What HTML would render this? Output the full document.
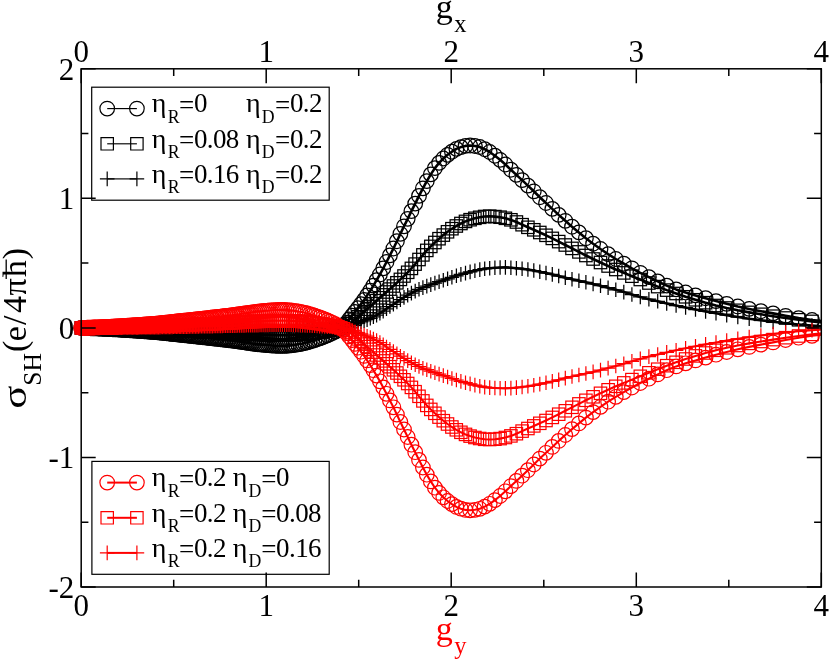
<!DOCTYPE html>
<html><head><meta charset="utf-8"><title>chart</title>
<style>html,body{margin:0;padding:0;background:#fff;}body{width:830px;height:662px;position:relative;overflow:hidden;font-family:"Liberation Serif",serif;}</style>
</head><body>
<svg width="830" height="662" viewBox="0 0 830 662" style="display:block;position:absolute;left:0;top:0;will-change:transform">
<defs><clipPath id="fr"><rect x="81.2" y="68.8" width="740.0999999999999" height="518.2"/></clipPath></defs>
<rect width="830" height="662" fill="#fff"/>
<path d="M81.2,327.9 82.4,327.9 83.6,328 84.8,328 86,328 87.2,328.1 88.4,328.1 89.6,328.1 90.8,328.2 92,328.2 93.2,328.3 94.4,328.3 95.6,328.4 96.9,328.4 98.1,328.5 99.3,328.5 100.5,328.6 101.7,328.6 102.9,328.7 104.1,328.7 105.3,328.8 106.6,328.8 107.8,328.9 109,329 110.2,329 111.4,329.1 112.7,329.2 113.9,329.2 115.1,329.3 116.3,329.4 117.6,329.4 118.8,329.5 120.1,329.6 121.3,329.7 122.5,329.7 123.8,329.8 125,329.9 126.3,330 127.5,330.1 128.8,330.1 130,330.2 131.3,330.3 132.6,330.4 133.8,330.5 135.1,330.6 136.4,330.6 137.6,330.7 138.9,330.8 140.2,330.9 141.5,331 142.8,331.1 144.1,331.2 145.4,331.3 146.7,331.4 148,331.5 149.3,331.6 150.6,331.7 151.9,331.8 153.2,331.9 154.5,332 155.9,332.1 157.2,332.2 158.5,332.4 159.9,332.5 161.2,332.6 162.6,332.8 164,332.9 165.3,333.1 166.7,333.2 168.1,333.4 169.4,333.5 170.8,333.7 172.2,333.8 173.6,334 175,334.1 176.4,334.3 177.8,334.4 179.3,334.6 180.7,334.8 182.1,334.9 183.6,335.1 185,335.2 186.5,335.4 187.9,335.5 189.4,335.7 190.9,335.9 192.4,336 193.9,336.2 195.4,336.3 196.9,336.5 198.4,336.7 199.9,336.9 201.5,337 203,337.2 204.6,337.4 206.1,337.5 207.7,337.7 209.3,337.9 210.9,338.1 212.5,338.3 214.1,338.5 215.7,338.6 217.3,338.8 219,339 220.6,339.2 222.3,339.4 223.9,339.6 225.6,339.8 227.3,340 229,340.2 230.7,340.4 232.5,340.6 234.2,340.9 236,341.1 237.7,341.4 239.5,341.6 241.3,341.9 243.1,342.1 244.9,342.4 246.7,342.7 248.6,342.9 250.5,343.2 252.3,343.5 254.2,343.7 256.1,344 258,344.2 260,344.4 261.9,344.6 263.9,344.8 265.9,345 267.9,345.1 269.9,345.3 272,345.5 274,345.6 276.1,345.7 278.2,345.8 280.3,345.9 282.4,345.9 284.6,345.8 286.8,345.7 289,345.5 291.2,345.3 293.4,345 295.7,344.7 298,344.3 300.3,344 302.6,343.5 305,343 307.3,342.3 309.7,341.6 312.2,340.9 314.6,340.1 317.1,339.2 319.6,338.4 322.2,337.5 324.7,336.5 327.3,335.4 329.9,334.2 332.6,333 335.3,331.6 338,330 340.8,328.2 343.6,325.8 346.4,322.8 349.2,319.4 352.1,315.7 355,311.9 358,308.1 361,304.1 364.1,299.9 367.1,295.4 370.3,290.7 373.4,285.6 376.6,280.2 379.9,274.5 383.2,268.4 386.5,262 389.9,255.4 393.4,248.5 396.9,241.2 400.4,233.8 404,226.3 407.7,218.8 411.4,211.1 415.2,203.6 419,195.9 422.9,188.3 426.8,181.1 430.8,174.4 434.9,168.1 439.1,162.9 443.3,158.5 447.6,154.8 451.9,151.7 456.4,148.9 460.9,147.1 465.5,145.9 470.1,145.5 474.9,146 479.8,147 484.7,149.2 489.7,152 494.9,155.7 500.1,159.8 505.4,164.5 510.9,169.7 516.4,174.9 522.1,180.1 527.9,185.6 533.8,191.3 539.8,197.2 546,203 552.3,208.9 558.7,214.9 565.3,220.8 572,226.7 578.9,232.4 585.9,238.2 593.1,243.7 600.5,249 608.1,254.1 615.8,259 623.8,263.7 631.9,268.3 640.3,272.8 648.9,277.1 657.7,281.4 666.7,285.6 676.1,289.4 685.6,292.5 695.5,295.4 705.6,298.2 716,301.1 726.7,303.8 737.8,306.5 749.2,308.9 760.9,311.2 773.1,313.4 785.6,315.8 798.6,318.1 812,320 825.8,321.6 840.2,322.7" fill="none" stroke="#000" stroke-width="2.6" stroke-linejoin="round" clip-path="url(#fr)"/>
<g fill="none" stroke="#000" stroke-width="1.25"><circle cx="81.2" cy="327.9" r="7.3"/><circle cx="82.4" cy="327.9" r="7.3"/><circle cx="83.6" cy="328" r="7.3"/><circle cx="84.8" cy="328" r="7.3"/><circle cx="86" cy="328" r="7.3"/><circle cx="87.2" cy="328.1" r="7.3"/><circle cx="88.4" cy="328.1" r="7.3"/><circle cx="89.6" cy="328.1" r="7.3"/><circle cx="90.8" cy="328.2" r="7.3"/><circle cx="92" cy="328.2" r="7.3"/><circle cx="93.2" cy="328.3" r="7.3"/><circle cx="94.4" cy="328.3" r="7.3"/><circle cx="95.6" cy="328.4" r="7.3"/><circle cx="96.9" cy="328.4" r="7.3"/><circle cx="98.1" cy="328.5" r="7.3"/><circle cx="99.3" cy="328.5" r="7.3"/><circle cx="100.5" cy="328.6" r="7.3"/><circle cx="101.7" cy="328.6" r="7.3"/><circle cx="102.9" cy="328.7" r="7.3"/><circle cx="104.1" cy="328.7" r="7.3"/><circle cx="105.3" cy="328.8" r="7.3"/><circle cx="106.6" cy="328.8" r="7.3"/><circle cx="107.8" cy="328.9" r="7.3"/><circle cx="109" cy="329" r="7.3"/><circle cx="110.2" cy="329" r="7.3"/><circle cx="111.4" cy="329.1" r="7.3"/><circle cx="112.7" cy="329.2" r="7.3"/><circle cx="113.9" cy="329.2" r="7.3"/><circle cx="115.1" cy="329.3" r="7.3"/><circle cx="116.3" cy="329.4" r="7.3"/><circle cx="117.6" cy="329.4" r="7.3"/><circle cx="118.8" cy="329.5" r="7.3"/><circle cx="120.1" cy="329.6" r="7.3"/><circle cx="121.3" cy="329.7" r="7.3"/><circle cx="122.5" cy="329.7" r="7.3"/><circle cx="123.8" cy="329.8" r="7.3"/><circle cx="125" cy="329.9" r="7.3"/><circle cx="126.3" cy="330" r="7.3"/><circle cx="127.5" cy="330.1" r="7.3"/><circle cx="128.8" cy="330.1" r="7.3"/><circle cx="130" cy="330.2" r="7.3"/><circle cx="131.3" cy="330.3" r="7.3"/><circle cx="132.6" cy="330.4" r="7.3"/><circle cx="133.8" cy="330.5" r="7.3"/><circle cx="135.1" cy="330.6" r="7.3"/><circle cx="136.4" cy="330.6" r="7.3"/><circle cx="137.6" cy="330.7" r="7.3"/><circle cx="138.9" cy="330.8" r="7.3"/><circle cx="140.2" cy="330.9" r="7.3"/><circle cx="141.5" cy="331" r="7.3"/><circle cx="142.8" cy="331.1" r="7.3"/><circle cx="144.1" cy="331.2" r="7.3"/><circle cx="145.4" cy="331.3" r="7.3"/><circle cx="146.7" cy="331.4" r="7.3"/><circle cx="148" cy="331.5" r="7.3"/><circle cx="149.3" cy="331.6" r="7.3"/><circle cx="150.6" cy="331.7" r="7.3"/><circle cx="151.9" cy="331.8" r="7.3"/><circle cx="153.2" cy="331.9" r="7.3"/><circle cx="154.5" cy="332" r="7.3"/><circle cx="155.9" cy="332.1" r="7.3"/><circle cx="157.2" cy="332.2" r="7.3"/><circle cx="158.5" cy="332.4" r="7.3"/><circle cx="159.9" cy="332.5" r="7.3"/><circle cx="161.2" cy="332.6" r="7.3"/><circle cx="162.6" cy="332.8" r="7.3"/><circle cx="164" cy="332.9" r="7.3"/><circle cx="165.3" cy="333.1" r="7.3"/><circle cx="166.7" cy="333.2" r="7.3"/><circle cx="168.1" cy="333.4" r="7.3"/><circle cx="169.4" cy="333.5" r="7.3"/><circle cx="170.8" cy="333.7" r="7.3"/><circle cx="172.2" cy="333.8" r="7.3"/><circle cx="173.6" cy="334" r="7.3"/><circle cx="175" cy="334.1" r="7.3"/><circle cx="176.4" cy="334.3" r="7.3"/><circle cx="177.8" cy="334.4" r="7.3"/><circle cx="179.3" cy="334.6" r="7.3"/><circle cx="180.7" cy="334.8" r="7.3"/><circle cx="182.1" cy="334.9" r="7.3"/><circle cx="183.6" cy="335.1" r="7.3"/><circle cx="185" cy="335.2" r="7.3"/><circle cx="186.5" cy="335.4" r="7.3"/><circle cx="187.9" cy="335.5" r="7.3"/><circle cx="189.4" cy="335.7" r="7.3"/><circle cx="190.9" cy="335.9" r="7.3"/><circle cx="192.4" cy="336" r="7.3"/><circle cx="193.9" cy="336.2" r="7.3"/><circle cx="195.4" cy="336.3" r="7.3"/><circle cx="196.9" cy="336.5" r="7.3"/><circle cx="198.4" cy="336.7" r="7.3"/><circle cx="199.9" cy="336.9" r="7.3"/><circle cx="201.5" cy="337" r="7.3"/><circle cx="203" cy="337.2" r="7.3"/><circle cx="204.6" cy="337.4" r="7.3"/><circle cx="206.1" cy="337.5" r="7.3"/><circle cx="207.7" cy="337.7" r="7.3"/><circle cx="209.3" cy="337.9" r="7.3"/><circle cx="210.9" cy="338.1" r="7.3"/><circle cx="212.5" cy="338.3" r="7.3"/><circle cx="214.1" cy="338.5" r="7.3"/><circle cx="215.7" cy="338.6" r="7.3"/><circle cx="217.3" cy="338.8" r="7.3"/><circle cx="219" cy="339" r="7.3"/><circle cx="220.6" cy="339.2" r="7.3"/><circle cx="222.3" cy="339.4" r="7.3"/><circle cx="223.9" cy="339.6" r="7.3"/><circle cx="225.6" cy="339.8" r="7.3"/><circle cx="227.3" cy="340" r="7.3"/><circle cx="229" cy="340.2" r="7.3"/><circle cx="230.7" cy="340.4" r="7.3"/><circle cx="232.5" cy="340.6" r="7.3"/><circle cx="234.2" cy="340.9" r="7.3"/><circle cx="236" cy="341.1" r="7.3"/><circle cx="237.7" cy="341.4" r="7.3"/><circle cx="239.5" cy="341.6" r="7.3"/><circle cx="241.3" cy="341.9" r="7.3"/><circle cx="243.1" cy="342.1" r="7.3"/><circle cx="244.9" cy="342.4" r="7.3"/><circle cx="246.7" cy="342.7" r="7.3"/><circle cx="248.6" cy="342.9" r="7.3"/><circle cx="250.5" cy="343.2" r="7.3"/><circle cx="252.3" cy="343.5" r="7.3"/><circle cx="254.2" cy="343.7" r="7.3"/><circle cx="256.1" cy="344" r="7.3"/><circle cx="258" cy="344.2" r="7.3"/><circle cx="260" cy="344.4" r="7.3"/><circle cx="261.9" cy="344.6" r="7.3"/><circle cx="263.9" cy="344.8" r="7.3"/><circle cx="265.9" cy="345" r="7.3"/><circle cx="267.9" cy="345.1" r="7.3"/><circle cx="269.9" cy="345.3" r="7.3"/><circle cx="272" cy="345.5" r="7.3"/><circle cx="274" cy="345.6" r="7.3"/><circle cx="276.1" cy="345.7" r="7.3"/><circle cx="278.2" cy="345.8" r="7.3"/><circle cx="280.3" cy="345.9" r="7.3"/><circle cx="282.4" cy="345.9" r="7.3"/><circle cx="284.6" cy="345.8" r="7.3"/><circle cx="286.8" cy="345.7" r="7.3"/><circle cx="289" cy="345.5" r="7.3"/><circle cx="291.2" cy="345.3" r="7.3"/><circle cx="293.4" cy="345" r="7.3"/><circle cx="295.7" cy="344.7" r="7.3"/><circle cx="298" cy="344.3" r="7.3"/><circle cx="300.3" cy="344" r="7.3"/><circle cx="302.6" cy="343.5" r="7.3"/><circle cx="305" cy="343" r="7.3"/><circle cx="307.3" cy="342.3" r="7.3"/><circle cx="309.7" cy="341.6" r="7.3"/><circle cx="312.2" cy="340.9" r="7.3"/><circle cx="314.6" cy="340.1" r="7.3"/><circle cx="317.1" cy="339.2" r="7.3"/><circle cx="319.6" cy="338.4" r="7.3"/><circle cx="322.2" cy="337.5" r="7.3"/><circle cx="324.7" cy="336.5" r="7.3"/><circle cx="327.3" cy="335.4" r="7.3"/><circle cx="329.9" cy="334.2" r="7.3"/><circle cx="332.6" cy="333" r="7.3"/><circle cx="335.3" cy="331.6" r="7.3"/><circle cx="338" cy="330" r="7.3"/><circle cx="340.8" cy="328.2" r="7.3"/><circle cx="343.6" cy="325.8" r="7.3"/><circle cx="346.4" cy="322.8" r="7.3"/><circle cx="349.2" cy="319.4" r="7.3"/><circle cx="352.1" cy="315.7" r="7.3"/><circle cx="355" cy="311.9" r="7.3"/><circle cx="358" cy="308.1" r="7.3"/><circle cx="361" cy="304.1" r="7.3"/><circle cx="364.1" cy="299.9" r="7.3"/><circle cx="367.1" cy="295.4" r="7.3"/><circle cx="370.3" cy="290.7" r="7.3"/><circle cx="373.4" cy="285.6" r="7.3"/><circle cx="376.6" cy="280.2" r="7.3"/><circle cx="379.9" cy="274.5" r="7.3"/><circle cx="383.2" cy="268.4" r="7.3"/><circle cx="386.5" cy="262" r="7.3"/><circle cx="389.9" cy="255.4" r="7.3"/><circle cx="393.4" cy="248.5" r="7.3"/><circle cx="396.9" cy="241.2" r="7.3"/><circle cx="400.4" cy="233.8" r="7.3"/><circle cx="404" cy="226.3" r="7.3"/><circle cx="407.7" cy="218.8" r="7.3"/><circle cx="411.4" cy="211.1" r="7.3"/><circle cx="415.2" cy="203.6" r="7.3"/><circle cx="419" cy="195.9" r="7.3"/><circle cx="422.9" cy="188.3" r="7.3"/><circle cx="426.8" cy="181.1" r="7.3"/><circle cx="430.8" cy="174.4" r="7.3"/><circle cx="434.9" cy="168.1" r="7.3"/><circle cx="439.1" cy="162.9" r="7.3"/><circle cx="443.3" cy="158.5" r="7.3"/><circle cx="447.6" cy="154.8" r="7.3"/><circle cx="451.9" cy="151.7" r="7.3"/><circle cx="456.4" cy="148.9" r="7.3"/><circle cx="460.9" cy="147.1" r="7.3"/><circle cx="465.5" cy="145.9" r="7.3"/><circle cx="470.1" cy="145.5" r="7.3"/><circle cx="474.9" cy="146" r="7.3"/><circle cx="479.8" cy="147" r="7.3"/><circle cx="484.7" cy="149.2" r="7.3"/><circle cx="489.7" cy="152" r="7.3"/><circle cx="494.9" cy="155.7" r="7.3"/><circle cx="500.1" cy="159.8" r="7.3"/><circle cx="505.4" cy="164.5" r="7.3"/><circle cx="510.9" cy="169.7" r="7.3"/><circle cx="516.4" cy="174.9" r="7.3"/><circle cx="522.1" cy="180.1" r="7.3"/><circle cx="527.9" cy="185.6" r="7.3"/><circle cx="533.8" cy="191.3" r="7.3"/><circle cx="539.8" cy="197.2" r="7.3"/><circle cx="546" cy="203" r="7.3"/><circle cx="552.3" cy="208.9" r="7.3"/><circle cx="558.7" cy="214.9" r="7.3"/><circle cx="565.3" cy="220.8" r="7.3"/><circle cx="572" cy="226.7" r="7.3"/><circle cx="578.9" cy="232.4" r="7.3"/><circle cx="585.9" cy="238.2" r="7.3"/><circle cx="593.1" cy="243.7" r="7.3"/><circle cx="600.5" cy="249" r="7.3"/><circle cx="608.1" cy="254.1" r="7.3"/><circle cx="615.8" cy="259" r="7.3"/><circle cx="623.8" cy="263.7" r="7.3"/><circle cx="631.9" cy="268.3" r="7.3"/><circle cx="640.3" cy="272.8" r="7.3"/><circle cx="648.9" cy="277.1" r="7.3"/><circle cx="657.7" cy="281.4" r="7.3"/><circle cx="666.7" cy="285.6" r="7.3"/><circle cx="676.1" cy="289.4" r="7.3"/><circle cx="685.6" cy="292.5" r="7.3"/><circle cx="695.5" cy="295.4" r="7.3"/><circle cx="705.6" cy="298.2" r="7.3"/><circle cx="716" cy="301.1" r="7.3"/><circle cx="726.7" cy="303.8" r="7.3"/><circle cx="737.8" cy="306.5" r="7.3"/><circle cx="749.2" cy="308.9" r="7.3"/><circle cx="760.9" cy="311.2" r="7.3"/><circle cx="773.1" cy="313.4" r="7.3"/><circle cx="785.6" cy="315.8" r="7.3"/><circle cx="798.6" cy="318.1" r="7.3"/><circle cx="812" cy="320" r="7.3"/></g>
<path d="M81.2,327.9 82.4,327.9 83.6,327.9 84.8,327.9 86,328 87.2,328 88.4,328 89.6,328 90.8,328 92,328 93.2,328.1 94.4,328.1 95.6,328.1 96.9,328.1 98.1,328.1 99.3,328.2 100.5,328.2 101.7,328.2 102.9,328.2 104.1,328.2 105.3,328.3 106.6,328.3 107.8,328.3 109,328.3 110.2,328.4 111.4,328.4 112.7,328.4 113.9,328.4 115.1,328.5 116.3,328.5 117.6,328.5 118.8,328.6 120.1,328.6 121.3,328.6 122.5,328.7 123.8,328.7 125,328.7 126.3,328.8 127.5,328.8 128.8,328.8 130,328.8 131.3,328.9 132.6,328.9 133.8,329 135.1,329 136.4,329 137.6,329.1 138.9,329.1 140.2,329.1 141.5,329.2 142.8,329.2 144.1,329.2 145.4,329.3 146.7,329.3 148,329.4 149.3,329.4 150.6,329.4 151.9,329.5 153.2,329.5 154.5,329.6 155.9,329.6 157.2,329.7 158.5,329.7 159.9,329.8 161.2,329.8 162.6,329.9 164,329.9 165.3,330 166.7,330 168.1,330.1 169.4,330.2 170.8,330.2 172.2,330.3 173.6,330.4 175,330.4 176.4,330.5 177.8,330.5 179.3,330.6 180.7,330.7 182.1,330.7 183.6,330.8 185,330.9 186.5,330.9 187.9,331 189.4,331 190.9,331.1 192.4,331.2 193.9,331.2 195.4,331.3 196.9,331.4 198.4,331.5 199.9,331.5 201.5,331.6 203,331.7 204.6,331.7 206.1,331.8 207.7,331.9 209.3,332 210.9,332 212.5,332.1 214.1,332.2 215.7,332.3 217.3,332.3 219,332.4 220.6,332.5 222.3,332.6 223.9,332.7 225.6,332.7 227.3,332.8 229,332.9 230.7,333 232.5,333.1 234.2,333.2 236,333.3 237.7,333.4 239.5,333.5 241.3,333.6 243.1,333.7 244.9,333.8 246.7,333.9 248.6,334 250.5,334.1 252.3,334.2 254.2,334.3 256.1,334.4 258,334.4 260,334.5 261.9,334.6 263.9,334.7 265.9,334.8 267.9,334.8 269.9,334.9 272,335 274,335 276.1,335.1 278.2,335.1 280.3,335.1 282.4,335.2 284.6,335.1 286.8,335.1 289,335 291.2,334.9 293.4,334.8 295.7,334.7 298,334.6 300.3,334.5 302.6,334.3 305,334.1 307.3,333.8 309.7,333.5 312.2,333.2 314.6,332.9 317.1,332.6 319.6,332.2 322.2,331.8 324.7,331.4 327.3,330.9 329.9,330.4 332.6,329.9 335.3,329.4 338,328.8 340.8,328 343.6,327 346.4,325.5 349.2,323.7 352.1,321.6 355,319.3 358,316.8 361,314.3 364.1,311.7 367.1,309.2 370.3,306.5 373.4,303.7 376.6,300.7 379.9,297.8 383.2,294.9 386.5,292 389.9,289.1 393.4,286 396.9,282.8 400.4,279.4 404,276 407.7,272.3 411.4,268.4 415.2,264.1 419,259.5 422.9,254.9 426.8,250.4 430.8,246.4 434.9,242.5 439.1,238.7 443.3,235.1 447.6,231.8 451.9,228.8 456.4,226 460.9,223.5 465.5,221.4 470.1,219.7 474.9,218.3 479.8,217.3 484.7,216.5 489.7,216.3 494.9,216.6 500.1,217.2 505.4,218.3 510.9,219.9 516.4,222 522.1,224.7 527.9,227.3 533.8,229.8 539.8,232.5 546,235.3 552.3,238.4 558.7,241.6 565.3,245 572,248.4 578.9,251.9 585.9,255.5 593.1,259 600.5,262.5 608.1,266 615.8,269.5 623.8,272.9 631.9,276.2 640.3,279.5 648.9,283 657.7,286.6 666.7,290.1 676.1,293.5 685.6,296.8 695.5,299.8 705.6,302.7 716,305.5 726.7,308 737.8,310.3 749.2,312.4 760.9,314.3 773.1,316.2 785.6,318 798.6,319.8 812,321.4 825.8,322.8 840.2,324" fill="none" stroke="#000" stroke-width="2.6" stroke-linejoin="round" clip-path="url(#fr)"/>
<g fill="none" stroke="#000" stroke-width="1.25"><rect x="75" y="321.7" width="12.4" height="12.4"/><rect x="76.2" y="321.7" width="12.4" height="12.4"/><rect x="77.4" y="321.7" width="12.4" height="12.4"/><rect x="78.6" y="321.7" width="12.4" height="12.4"/><rect x="79.8" y="321.7" width="12.4" height="12.4"/><rect x="81" y="321.8" width="12.4" height="12.4"/><rect x="82.2" y="321.8" width="12.4" height="12.4"/><rect x="83.4" y="321.8" width="12.4" height="12.4"/><rect x="84.6" y="321.8" width="12.4" height="12.4"/><rect x="85.8" y="321.8" width="12.4" height="12.4"/><rect x="87" y="321.8" width="12.4" height="12.4"/><rect x="88.2" y="321.9" width="12.4" height="12.4"/><rect x="89.4" y="321.9" width="12.4" height="12.4"/><rect x="90.7" y="321.9" width="12.4" height="12.4"/><rect x="91.9" y="321.9" width="12.4" height="12.4"/><rect x="93.1" y="321.9" width="12.4" height="12.4"/><rect x="94.3" y="322" width="12.4" height="12.4"/><rect x="95.5" y="322" width="12.4" height="12.4"/><rect x="96.7" y="322" width="12.4" height="12.4"/><rect x="97.9" y="322" width="12.4" height="12.4"/><rect x="99.1" y="322.1" width="12.4" height="12.4"/><rect x="100.4" y="322.1" width="12.4" height="12.4"/><rect x="101.6" y="322.1" width="12.4" height="12.4"/><rect x="102.8" y="322.1" width="12.4" height="12.4"/><rect x="104" y="322.2" width="12.4" height="12.4"/><rect x="105.2" y="322.2" width="12.4" height="12.4"/><rect x="106.5" y="322.2" width="12.4" height="12.4"/><rect x="107.7" y="322.2" width="12.4" height="12.4"/><rect x="108.9" y="322.3" width="12.4" height="12.4"/><rect x="110.1" y="322.3" width="12.4" height="12.4"/><rect x="111.4" y="322.3" width="12.4" height="12.4"/><rect x="112.6" y="322.4" width="12.4" height="12.4"/><rect x="113.8" y="322.4" width="12.4" height="12.4"/><rect x="115.1" y="322.4" width="12.4" height="12.4"/><rect x="116.3" y="322.5" width="12.4" height="12.4"/><rect x="117.6" y="322.5" width="12.4" height="12.4"/><rect x="118.8" y="322.5" width="12.4" height="12.4"/><rect x="120.1" y="322.5" width="12.4" height="12.4"/><rect x="121.3" y="322.6" width="12.4" height="12.4"/><rect x="122.6" y="322.6" width="12.4" height="12.4"/><rect x="123.8" y="322.6" width="12.4" height="12.4"/><rect x="125.1" y="322.7" width="12.4" height="12.4"/><rect x="126.3" y="322.7" width="12.4" height="12.4"/><rect x="127.6" y="322.7" width="12.4" height="12.4"/><rect x="128.9" y="322.8" width="12.4" height="12.4"/><rect x="130.2" y="322.8" width="12.4" height="12.4"/><rect x="131.4" y="322.9" width="12.4" height="12.4"/><rect x="132.7" y="322.9" width="12.4" height="12.4"/><rect x="134" y="322.9" width="12.4" height="12.4"/><rect x="135.3" y="323" width="12.4" height="12.4"/><rect x="136.6" y="323" width="12.4" height="12.4"/><rect x="137.9" y="323" width="12.4" height="12.4"/><rect x="139.1" y="323.1" width="12.4" height="12.4"/><rect x="140.4" y="323.1" width="12.4" height="12.4"/><rect x="141.8" y="323.1" width="12.4" height="12.4"/><rect x="143.1" y="323.2" width="12.4" height="12.4"/><rect x="144.4" y="323.2" width="12.4" height="12.4"/><rect x="145.7" y="323.3" width="12.4" height="12.4"/><rect x="147" y="323.3" width="12.4" height="12.4"/><rect x="148.3" y="323.4" width="12.4" height="12.4"/><rect x="149.7" y="323.4" width="12.4" height="12.4"/><rect x="151" y="323.5" width="12.4" height="12.4"/><rect x="152.3" y="323.5" width="12.4" height="12.4"/><rect x="153.7" y="323.6" width="12.4" height="12.4"/><rect x="155" y="323.6" width="12.4" height="12.4"/><rect x="156.4" y="323.7" width="12.4" height="12.4"/><rect x="157.7" y="323.7" width="12.4" height="12.4"/><rect x="159.1" y="323.8" width="12.4" height="12.4"/><rect x="160.5" y="323.8" width="12.4" height="12.4"/><rect x="161.9" y="323.9" width="12.4" height="12.4"/><rect x="163.2" y="324" width="12.4" height="12.4"/><rect x="164.6" y="324" width="12.4" height="12.4"/><rect x="166" y="324.1" width="12.4" height="12.4"/><rect x="167.4" y="324.1" width="12.4" height="12.4"/><rect x="168.8" y="324.2" width="12.4" height="12.4"/><rect x="170.2" y="324.3" width="12.4" height="12.4"/><rect x="171.6" y="324.3" width="12.4" height="12.4"/><rect x="173.1" y="324.4" width="12.4" height="12.4"/><rect x="174.5" y="324.5" width="12.4" height="12.4"/><rect x="175.9" y="324.5" width="12.4" height="12.4"/><rect x="177.4" y="324.6" width="12.4" height="12.4"/><rect x="178.8" y="324.7" width="12.4" height="12.4"/><rect x="180.3" y="324.7" width="12.4" height="12.4"/><rect x="181.7" y="324.8" width="12.4" height="12.4"/><rect x="183.2" y="324.8" width="12.4" height="12.4"/><rect x="184.7" y="324.9" width="12.4" height="12.4"/><rect x="186.2" y="325" width="12.4" height="12.4"/><rect x="187.7" y="325" width="12.4" height="12.4"/><rect x="189.2" y="325.1" width="12.4" height="12.4"/><rect x="190.7" y="325.2" width="12.4" height="12.4"/><rect x="192.2" y="325.2" width="12.4" height="12.4"/><rect x="193.7" y="325.3" width="12.4" height="12.4"/><rect x="195.3" y="325.4" width="12.4" height="12.4"/><rect x="196.8" y="325.5" width="12.4" height="12.4"/><rect x="198.4" y="325.5" width="12.4" height="12.4"/><rect x="199.9" y="325.6" width="12.4" height="12.4"/><rect x="201.5" y="325.7" width="12.4" height="12.4"/><rect x="203.1" y="325.8" width="12.4" height="12.4"/><rect x="204.7" y="325.8" width="12.4" height="12.4"/><rect x="206.3" y="325.9" width="12.4" height="12.4"/><rect x="207.9" y="326" width="12.4" height="12.4"/><rect x="209.5" y="326.1" width="12.4" height="12.4"/><rect x="211.1" y="326.1" width="12.4" height="12.4"/><rect x="212.7" y="326.2" width="12.4" height="12.4"/><rect x="214.4" y="326.3" width="12.4" height="12.4"/><rect x="216.1" y="326.4" width="12.4" height="12.4"/><rect x="217.7" y="326.5" width="12.4" height="12.4"/><rect x="219.4" y="326.5" width="12.4" height="12.4"/><rect x="221.1" y="326.6" width="12.4" height="12.4"/><rect x="222.8" y="326.7" width="12.4" height="12.4"/><rect x="224.5" y="326.8" width="12.4" height="12.4"/><rect x="226.3" y="326.9" width="12.4" height="12.4"/><rect x="228" y="327" width="12.4" height="12.4"/><rect x="229.7" y="327.1" width="12.4" height="12.4"/><rect x="231.5" y="327.2" width="12.4" height="12.4"/><rect x="233.3" y="327.2" width="12.4" height="12.4"/><rect x="235.1" y="327.3" width="12.4" height="12.4"/><rect x="236.9" y="327.5" width="12.4" height="12.4"/><rect x="238.7" y="327.6" width="12.4" height="12.4"/><rect x="240.5" y="327.7" width="12.4" height="12.4"/><rect x="242.4" y="327.8" width="12.4" height="12.4"/><rect x="244.2" y="327.9" width="12.4" height="12.4"/><rect x="246.1" y="328" width="12.4" height="12.4"/><rect x="248" y="328.1" width="12.4" height="12.4"/><rect x="249.9" y="328.1" width="12.4" height="12.4"/><rect x="251.8" y="328.2" width="12.4" height="12.4"/><rect x="253.8" y="328.3" width="12.4" height="12.4"/><rect x="255.7" y="328.4" width="12.4" height="12.4"/><rect x="257.7" y="328.5" width="12.4" height="12.4"/><rect x="259.7" y="328.6" width="12.4" height="12.4"/><rect x="261.7" y="328.6" width="12.4" height="12.4"/><rect x="263.7" y="328.7" width="12.4" height="12.4"/><rect x="265.8" y="328.8" width="12.4" height="12.4"/><rect x="267.8" y="328.8" width="12.4" height="12.4"/><rect x="269.9" y="328.9" width="12.4" height="12.4"/><rect x="272" y="328.9" width="12.4" height="12.4"/><rect x="274.1" y="328.9" width="12.4" height="12.4"/><rect x="276.2" y="328.9" width="12.4" height="12.4"/><rect x="278.4" y="328.9" width="12.4" height="12.4"/><rect x="280.6" y="328.9" width="12.4" height="12.4"/><rect x="282.8" y="328.8" width="12.4" height="12.4"/><rect x="285" y="328.7" width="12.4" height="12.4"/><rect x="287.2" y="328.6" width="12.4" height="12.4"/><rect x="289.5" y="328.5" width="12.4" height="12.4"/><rect x="291.8" y="328.4" width="12.4" height="12.4"/><rect x="294.1" y="328.3" width="12.4" height="12.4"/><rect x="296.4" y="328.1" width="12.4" height="12.4"/><rect x="298.8" y="327.9" width="12.4" height="12.4"/><rect x="301.1" y="327.6" width="12.4" height="12.4"/><rect x="303.5" y="327.3" width="12.4" height="12.4"/><rect x="306" y="327" width="12.4" height="12.4"/><rect x="308.4" y="326.7" width="12.4" height="12.4"/><rect x="310.9" y="326.4" width="12.4" height="12.4"/><rect x="313.4" y="326" width="12.4" height="12.4"/><rect x="316" y="325.6" width="12.4" height="12.4"/><rect x="318.5" y="325.2" width="12.4" height="12.4"/><rect x="321.1" y="324.7" width="12.4" height="12.4"/><rect x="323.7" y="324.2" width="12.4" height="12.4"/><rect x="326.4" y="323.7" width="12.4" height="12.4"/><rect x="329.1" y="323.2" width="12.4" height="12.4"/><rect x="331.8" y="322.6" width="12.4" height="12.4"/><rect x="334.6" y="321.8" width="12.4" height="12.4"/><rect x="337.3" y="320.8" width="12.4" height="12.4"/><rect x="340.2" y="319.3" width="12.4" height="12.4"/><rect x="343" y="317.5" width="12.4" height="12.4"/><rect x="345.9" y="315.4" width="12.4" height="12.4"/><rect x="348.8" y="313.1" width="12.4" height="12.4"/><rect x="351.8" y="310.6" width="12.4" height="12.4"/><rect x="354.8" y="308.1" width="12.4" height="12.4"/><rect x="357.9" y="305.5" width="12.4" height="12.4"/><rect x="360.9" y="303" width="12.4" height="12.4"/><rect x="364.1" y="300.3" width="12.4" height="12.4"/><rect x="367.2" y="297.5" width="12.4" height="12.4"/><rect x="370.4" y="294.5" width="12.4" height="12.4"/><rect x="373.7" y="291.6" width="12.4" height="12.4"/><rect x="377" y="288.7" width="12.4" height="12.4"/><rect x="380.3" y="285.8" width="12.4" height="12.4"/><rect x="383.7" y="282.9" width="12.4" height="12.4"/><rect x="387.2" y="279.8" width="12.4" height="12.4"/><rect x="390.7" y="276.6" width="12.4" height="12.4"/><rect x="394.2" y="273.2" width="12.4" height="12.4"/><rect x="397.8" y="269.8" width="12.4" height="12.4"/><rect x="401.5" y="266.1" width="12.4" height="12.4"/><rect x="405.2" y="262.2" width="12.4" height="12.4"/><rect x="408.9" y="257.9" width="12.4" height="12.4"/><rect x="412.8" y="253.3" width="12.4" height="12.4"/><rect x="416.7" y="248.7" width="12.4" height="12.4"/><rect x="420.6" y="244.2" width="12.4" height="12.4"/><rect x="424.6" y="240.2" width="12.4" height="12.4"/><rect x="428.7" y="236.3" width="12.4" height="12.4"/><rect x="432.8" y="232.5" width="12.4" height="12.4"/><rect x="437.1" y="228.9" width="12.4" height="12.4"/><rect x="441.3" y="225.6" width="12.4" height="12.4"/><rect x="445.7" y="222.5" width="12.4" height="12.4"/><rect x="450.1" y="219.8" width="12.4" height="12.4"/><rect x="454.7" y="217.3" width="12.4" height="12.4"/><rect x="459.3" y="215.2" width="12.4" height="12.4"/><rect x="463.9" y="213.5" width="12.4" height="12.4"/><rect x="468.7" y="212.1" width="12.4" height="12.4"/><rect x="473.5" y="211.1" width="12.4" height="12.4"/><rect x="478.5" y="210.3" width="12.4" height="12.4"/><rect x="483.5" y="210" width="12.4" height="12.4"/><rect x="488.7" y="210.4" width="12.4" height="12.4"/><rect x="493.9" y="211" width="12.4" height="12.4"/><rect x="499.2" y="212.1" width="12.4" height="12.4"/><rect x="504.7" y="213.6" width="12.4" height="12.4"/><rect x="510.2" y="215.8" width="12.4" height="12.4"/><rect x="515.9" y="218.5" width="12.4" height="12.4"/><rect x="521.7" y="221.1" width="12.4" height="12.4"/><rect x="527.6" y="223.6" width="12.4" height="12.4"/><rect x="533.6" y="226.3" width="12.4" height="12.4"/><rect x="539.8" y="229.1" width="12.4" height="12.4"/><rect x="546.1" y="232.2" width="12.4" height="12.4"/><rect x="552.5" y="235.4" width="12.4" height="12.4"/><rect x="559.1" y="238.8" width="12.4" height="12.4"/><rect x="565.8" y="242.2" width="12.4" height="12.4"/><rect x="572.7" y="245.7" width="12.4" height="12.4"/><rect x="579.7" y="249.3" width="12.4" height="12.4"/><rect x="586.9" y="252.8" width="12.4" height="12.4"/><rect x="594.3" y="256.3" width="12.4" height="12.4"/><rect x="601.9" y="259.8" width="12.4" height="12.4"/><rect x="609.6" y="263.3" width="12.4" height="12.4"/><rect x="617.6" y="266.7" width="12.4" height="12.4"/><rect x="625.7" y="270" width="12.4" height="12.4"/><rect x="634.1" y="273.3" width="12.4" height="12.4"/><rect x="642.7" y="276.8" width="12.4" height="12.4"/><rect x="651.5" y="280.4" width="12.4" height="12.4"/><rect x="660.5" y="283.9" width="12.4" height="12.4"/><rect x="669.8" y="287.3" width="12.4" height="12.4"/><rect x="679.4" y="290.6" width="12.4" height="12.4"/><rect x="689.2" y="293.6" width="12.4" height="12.4"/><rect x="699.4" y="296.5" width="12.4" height="12.4"/><rect x="709.8" y="299.3" width="12.4" height="12.4"/><rect x="720.5" y="301.8" width="12.4" height="12.4"/><rect x="731.6" y="304.1" width="12.4" height="12.4"/><rect x="743" y="306.2" width="12.4" height="12.4"/><rect x="754.7" y="308.1" width="12.4" height="12.4"/><rect x="766.9" y="310" width="12.4" height="12.4"/><rect x="779.4" y="311.8" width="12.4" height="12.4"/><rect x="792.4" y="313.6" width="12.4" height="12.4"/><rect x="805.8" y="315.2" width="12.4" height="12.4"/></g>
<path d="M81.2,327.9 82.4,327.9 83.6,327.9 84.8,327.9 86,327.9 87.2,327.9 88.4,327.9 89.6,328 90.8,328 92,328 93.2,328 94.4,328 95.6,328 96.9,328 98.1,328 99.3,328 100.5,328 101.7,328 102.9,328.1 104.1,328.1 105.3,328.1 106.6,328.1 107.8,328.1 109,328.1 110.2,328.1 111.4,328.1 112.7,328.1 113.9,328.2 115.1,328.2 116.3,328.2 117.6,328.2 118.8,328.2 120.1,328.2 121.3,328.2 122.5,328.3 123.8,328.3 125,328.3 126.3,328.3 127.5,328.3 128.8,328.3 130,328.3 131.3,328.4 132.6,328.4 133.8,328.4 135.1,328.4 136.4,328.4 137.6,328.4 138.9,328.4 140.2,328.5 141.5,328.5 142.8,328.5 144.1,328.5 145.4,328.5 146.7,328.5 148,328.6 149.3,328.6 150.6,328.6 151.9,328.6 153.2,328.6 154.5,328.7 155.9,328.7 157.2,328.7 158.5,328.7 159.9,328.7 161.2,328.8 162.6,328.8 164,328.8 165.3,328.8 166.7,328.9 168.1,328.9 169.4,328.9 170.8,328.9 172.2,328.9 173.6,329 175,329 176.4,329 177.8,329.1 179.3,329.1 180.7,329.1 182.1,329.1 183.6,329.2 185,329.2 186.5,329.2 187.9,329.2 189.4,329.3 190.9,329.3 192.4,329.3 193.9,329.4 195.4,329.4 196.9,329.4 198.4,329.4 199.9,329.5 201.5,329.5 203,329.5 204.6,329.6 206.1,329.6 207.7,329.6 209.3,329.7 210.9,329.7 212.5,329.7 214.1,329.8 215.7,329.8 217.3,329.8 219,329.9 220.6,329.9 222.3,329.9 223.9,330 225.6,330 227.3,330 229,330.1 230.7,330.1 232.5,330.2 234.2,330.2 236,330.2 237.7,330.3 239.5,330.3 241.3,330.4 243.1,330.4 244.9,330.4 246.7,330.5 248.6,330.5 250.5,330.6 252.3,330.6 254.2,330.6 256.1,330.7 258,330.7 260,330.8 261.9,330.8 263.9,330.8 265.9,330.9 267.9,330.9 269.9,331 272,331 274,331 276.1,331.1 278.2,331.1 280.3,331.1 282.4,331.1 284.6,331.1 286.8,331.1 289,331.1 291.2,331 293.4,330.9 295.7,330.9 298,330.8 300.3,330.7 302.6,330.6 305,330.5 307.3,330.4 309.7,330.3 312.2,330.2 314.6,330 317.1,329.9 319.6,329.7 322.2,329.6 324.7,329.4 327.3,329.2 329.9,329 332.6,328.8 335.3,328.6 338,328.3 340.8,328 343.6,327.5 346.4,326.8 349.2,326 352.1,325 355,324 358,323 361,321.9 364.1,320.8 367.1,319.6 370.3,318.3 373.4,316.8 376.6,315.2 379.9,313.2 383.2,311.1 386.5,308.8 389.9,306.5 393.4,304.3 396.9,302 400.4,299.6 404,297.4 407.7,295.2 411.4,293.1 415.2,291.1 419,289.3 422.9,287.6 426.8,286.1 430.8,284.6 434.9,283.1 439.1,281.7 443.3,280.2 447.6,278.8 451.9,277.3 456.4,275.8 460.9,274.4 465.5,273.1 470.1,271.9 474.9,270.7 479.8,269.6 484.7,268.7 489.7,268.2 494.9,267.8 500.1,267.5 505.4,267.4 510.9,267.7 516.4,268.2 522.1,268.8 527.9,269.5 533.8,270.5 539.8,271.7 546,273 552.3,274.4 558.7,276 565.3,277.7 572,279.3 578.9,280.8 585.9,282.3 593.1,283.9 600.5,285.7 608.1,287.7 615.8,289.8 623.8,292.1 631.9,294.5 640.3,296.9 648.9,299.2 657.7,301.3 666.7,303.4 676.1,305.5 685.6,307.5 695.5,309.5 705.6,311.4 716,313.3 726.7,315.2 737.8,317 749.2,318.7 760.9,320.3 773.1,321.8 785.6,323.3 798.6,324.5 812,325.6 825.8,326.5 840.2,327.3" fill="none" stroke="#000" stroke-width="2.6" stroke-linejoin="round" clip-path="url(#fr)"/>
<g fill="none" stroke="#000" stroke-width="1.25"><path d="M73.9,327.9h14.6M81.2,320.6v14.6"/><path d="M75.1,327.9h14.6M82.4,320.6v14.6"/><path d="M76.3,327.9h14.6M83.6,320.6v14.6"/><path d="M77.5,327.9h14.6M84.8,320.6v14.6"/><path d="M78.7,327.9h14.6M86,320.6v14.6"/><path d="M79.9,327.9h14.6M87.2,320.6v14.6"/><path d="M81.1,327.9h14.6M88.4,320.6v14.6"/><path d="M82.3,328h14.6M89.6,320.7v14.6"/><path d="M83.5,328h14.6M90.8,320.7v14.6"/><path d="M84.7,328h14.6M92,320.7v14.6"/><path d="M85.9,328h14.6M93.2,320.7v14.6"/><path d="M87.1,328h14.6M94.4,320.7v14.6"/><path d="M88.3,328h14.6M95.6,320.7v14.6"/><path d="M89.6,328h14.6M96.9,320.7v14.6"/><path d="M90.8,328h14.6M98.1,320.7v14.6"/><path d="M92,328h14.6M99.3,320.7v14.6"/><path d="M93.2,328h14.6M100.5,320.7v14.6"/><path d="M94.4,328h14.6M101.7,320.7v14.6"/><path d="M95.6,328.1h14.6M102.9,320.8v14.6"/><path d="M96.8,328.1h14.6M104.1,320.8v14.6"/><path d="M98,328.1h14.6M105.3,320.8v14.6"/><path d="M99.3,328.1h14.6M106.6,320.8v14.6"/><path d="M100.5,328.1h14.6M107.8,320.8v14.6"/><path d="M101.7,328.1h14.6M109,320.8v14.6"/><path d="M102.9,328.1h14.6M110.2,320.8v14.6"/><path d="M104.1,328.1h14.6M111.4,320.8v14.6"/><path d="M105.4,328.1h14.6M112.7,320.8v14.6"/><path d="M106.6,328.2h14.6M113.9,320.9v14.6"/><path d="M107.8,328.2h14.6M115.1,320.9v14.6"/><path d="M109,328.2h14.6M116.3,320.9v14.6"/><path d="M110.3,328.2h14.6M117.6,320.9v14.6"/><path d="M111.5,328.2h14.6M118.8,320.9v14.6"/><path d="M112.8,328.2h14.6M120.1,320.9v14.6"/><path d="M114,328.2h14.6M121.3,320.9v14.6"/><path d="M115.2,328.3h14.6M122.5,321v14.6"/><path d="M116.5,328.3h14.6M123.8,321v14.6"/><path d="M117.7,328.3h14.6M125,321v14.6"/><path d="M119,328.3h14.6M126.3,321v14.6"/><path d="M120.2,328.3h14.6M127.5,321v14.6"/><path d="M121.5,328.3h14.6M128.8,321v14.6"/><path d="M122.7,328.3h14.6M130,321v14.6"/><path d="M124,328.4h14.6M131.3,321.1v14.6"/><path d="M125.3,328.4h14.6M132.6,321.1v14.6"/><path d="M126.5,328.4h14.6M133.8,321.1v14.6"/><path d="M127.8,328.4h14.6M135.1,321.1v14.6"/><path d="M129.1,328.4h14.6M136.4,321.1v14.6"/><path d="M130.3,328.4h14.6M137.6,321.1v14.6"/><path d="M131.6,328.4h14.6M138.9,321.1v14.6"/><path d="M132.9,328.5h14.6M140.2,321.2v14.6"/><path d="M134.2,328.5h14.6M141.5,321.2v14.6"/><path d="M135.5,328.5h14.6M142.8,321.2v14.6"/><path d="M136.8,328.5h14.6M144.1,321.2v14.6"/><path d="M138.1,328.5h14.6M145.4,321.2v14.6"/><path d="M139.4,328.5h14.6M146.7,321.2v14.6"/><path d="M140.7,328.6h14.6M148,321.3v14.6"/><path d="M142,328.6h14.6M149.3,321.3v14.6"/><path d="M143.3,328.6h14.6M150.6,321.3v14.6"/><path d="M144.6,328.6h14.6M151.9,321.3v14.6"/><path d="M145.9,328.6h14.6M153.2,321.3v14.6"/><path d="M147.2,328.7h14.6M154.5,321.4v14.6"/><path d="M148.6,328.7h14.6M155.9,321.4v14.6"/><path d="M149.9,328.7h14.6M157.2,321.4v14.6"/><path d="M151.2,328.7h14.6M158.5,321.4v14.6"/><path d="M152.6,328.7h14.6M159.9,321.4v14.6"/><path d="M153.9,328.8h14.6M161.2,321.5v14.6"/><path d="M155.3,328.8h14.6M162.6,321.5v14.6"/><path d="M156.7,328.8h14.6M164,321.5v14.6"/><path d="M158,328.8h14.6M165.3,321.5v14.6"/><path d="M159.4,328.9h14.6M166.7,321.6v14.6"/><path d="M160.8,328.9h14.6M168.1,321.6v14.6"/><path d="M162.1,328.9h14.6M169.4,321.6v14.6"/><path d="M163.5,328.9h14.6M170.8,321.6v14.6"/><path d="M164.9,328.9h14.6M172.2,321.6v14.6"/><path d="M166.3,329h14.6M173.6,321.7v14.6"/><path d="M167.7,329h14.6M175,321.7v14.6"/><path d="M169.1,329h14.6M176.4,321.7v14.6"/><path d="M170.5,329.1h14.6M177.8,321.8v14.6"/><path d="M172,329.1h14.6M179.3,321.8v14.6"/><path d="M173.4,329.1h14.6M180.7,321.8v14.6"/><path d="M174.8,329.1h14.6M182.1,321.8v14.6"/><path d="M176.3,329.2h14.6M183.6,321.9v14.6"/><path d="M177.7,329.2h14.6M185,321.9v14.6"/><path d="M179.2,329.2h14.6M186.5,321.9v14.6"/><path d="M180.6,329.2h14.6M187.9,321.9v14.6"/><path d="M182.1,329.3h14.6M189.4,322v14.6"/><path d="M183.6,329.3h14.6M190.9,322v14.6"/><path d="M185.1,329.3h14.6M192.4,322v14.6"/><path d="M186.6,329.4h14.6M193.9,322.1v14.6"/><path d="M188.1,329.4h14.6M195.4,322.1v14.6"/><path d="M189.6,329.4h14.6M196.9,322.1v14.6"/><path d="M191.1,329.4h14.6M198.4,322.1v14.6"/><path d="M192.6,329.5h14.6M199.9,322.2v14.6"/><path d="M194.2,329.5h14.6M201.5,322.2v14.6"/><path d="M195.7,329.5h14.6M203,322.2v14.6"/><path d="M197.3,329.6h14.6M204.6,322.3v14.6"/><path d="M198.8,329.6h14.6M206.1,322.3v14.6"/><path d="M200.4,329.6h14.6M207.7,322.3v14.6"/><path d="M202,329.7h14.6M209.3,322.4v14.6"/><path d="M203.6,329.7h14.6M210.9,322.4v14.6"/><path d="M205.2,329.7h14.6M212.5,322.4v14.6"/><path d="M206.8,329.8h14.6M214.1,322.5v14.6"/><path d="M208.4,329.8h14.6M215.7,322.5v14.6"/><path d="M210,329.8h14.6M217.3,322.5v14.6"/><path d="M211.7,329.9h14.6M219,322.6v14.6"/><path d="M213.3,329.9h14.6M220.6,322.6v14.6"/><path d="M215,329.9h14.6M222.3,322.6v14.6"/><path d="M216.6,330h14.6M223.9,322.7v14.6"/><path d="M218.3,330h14.6M225.6,322.7v14.6"/><path d="M220,330h14.6M227.3,322.7v14.6"/><path d="M221.7,330.1h14.6M229,322.8v14.6"/><path d="M223.4,330.1h14.6M230.7,322.8v14.6"/><path d="M225.2,330.2h14.6M232.5,322.9v14.6"/><path d="M226.9,330.2h14.6M234.2,322.9v14.6"/><path d="M228.7,330.2h14.6M236,322.9v14.6"/><path d="M230.4,330.3h14.6M237.7,323v14.6"/><path d="M232.2,330.3h14.6M239.5,323v14.6"/><path d="M234,330.4h14.6M241.3,323.1v14.6"/><path d="M235.8,330.4h14.6M243.1,323.1v14.6"/><path d="M237.6,330.4h14.6M244.9,323.1v14.6"/><path d="M239.4,330.5h14.6M246.7,323.2v14.6"/><path d="M241.3,330.5h14.6M248.6,323.2v14.6"/><path d="M243.2,330.6h14.6M250.5,323.3v14.6"/><path d="M245,330.6h14.6M252.3,323.3v14.6"/><path d="M246.9,330.6h14.6M254.2,323.3v14.6"/><path d="M248.8,330.7h14.6M256.1,323.4v14.6"/><path d="M250.7,330.7h14.6M258,323.4v14.6"/><path d="M252.7,330.8h14.6M260,323.5v14.6"/><path d="M254.6,330.8h14.6M261.9,323.5v14.6"/><path d="M256.6,330.8h14.6M263.9,323.5v14.6"/><path d="M258.6,330.9h14.6M265.9,323.6v14.6"/><path d="M260.6,330.9h14.6M267.9,323.6v14.6"/><path d="M262.6,331h14.6M269.9,323.7v14.6"/><path d="M264.7,331h14.6M272,323.7v14.6"/><path d="M266.7,331h14.6M274,323.7v14.6"/><path d="M268.8,331.1h14.6M276.1,323.8v14.6"/><path d="M270.9,331.1h14.6M278.2,323.8v14.6"/><path d="M273,331.1h14.6M280.3,323.8v14.6"/><path d="M275.1,331.1h14.6M282.4,323.8v14.6"/><path d="M277.3,331.1h14.6M284.6,323.8v14.6"/><path d="M279.5,331.1h14.6M286.8,323.8v14.6"/><path d="M281.7,331.1h14.6M289,323.8v14.6"/><path d="M283.9,331h14.6M291.2,323.7v14.6"/><path d="M286.1,330.9h14.6M293.4,323.6v14.6"/><path d="M288.4,330.9h14.6M295.7,323.6v14.6"/><path d="M290.7,330.8h14.6M298,323.5v14.6"/><path d="M293,330.7h14.6M300.3,323.4v14.6"/><path d="M295.3,330.6h14.6M302.6,323.3v14.6"/><path d="M297.7,330.5h14.6M305,323.2v14.6"/><path d="M300,330.4h14.6M307.3,323.1v14.6"/><path d="M302.4,330.3h14.6M309.7,323v14.6"/><path d="M304.9,330.2h14.6M312.2,322.9v14.6"/><path d="M307.3,330h14.6M314.6,322.7v14.6"/><path d="M309.8,329.9h14.6M317.1,322.6v14.6"/><path d="M312.3,329.7h14.6M319.6,322.4v14.6"/><path d="M314.9,329.6h14.6M322.2,322.3v14.6"/><path d="M317.4,329.4h14.6M324.7,322.1v14.6"/><path d="M320,329.2h14.6M327.3,321.9v14.6"/><path d="M322.6,329h14.6M329.9,321.7v14.6"/><path d="M325.3,328.8h14.6M332.6,321.5v14.6"/><path d="M328,328.6h14.6M335.3,321.3v14.6"/><path d="M330.7,328.3h14.6M338,321v14.6"/><path d="M333.5,328h14.6M340.8,320.7v14.6"/><path d="M336.3,327.5h14.6M343.6,320.2v14.6"/><path d="M339.1,326.8h14.6M346.4,319.5v14.6"/><path d="M341.9,326h14.6M349.2,318.7v14.6"/><path d="M344.8,325h14.6M352.1,317.7v14.6"/><path d="M347.7,324h14.6M355,316.7v14.6"/><path d="M350.7,323h14.6M358,315.7v14.6"/><path d="M353.7,321.9h14.6M361,314.6v14.6"/><path d="M356.8,320.8h14.6M364.1,313.5v14.6"/><path d="M359.8,319.6h14.6M367.1,312.3v14.6"/><path d="M363,318.3h14.6M370.3,311v14.6"/><path d="M366.1,316.8h14.6M373.4,309.5v14.6"/><path d="M369.3,315.2h14.6M376.6,307.9v14.6"/><path d="M372.6,313.2h14.6M379.9,305.9v14.6"/><path d="M375.9,311.1h14.6M383.2,303.8v14.6"/><path d="M379.2,308.8h14.6M386.5,301.5v14.6"/><path d="M382.6,306.5h14.6M389.9,299.2v14.6"/><path d="M386.1,304.3h14.6M393.4,297v14.6"/><path d="M389.6,302h14.6M396.9,294.7v14.6"/><path d="M393.1,299.6h14.6M400.4,292.3v14.6"/><path d="M396.7,297.4h14.6M404,290.1v14.6"/><path d="M400.4,295.2h14.6M407.7,287.9v14.6"/><path d="M404.1,293.1h14.6M411.4,285.8v14.6"/><path d="M407.9,291.1h14.6M415.2,283.8v14.6"/><path d="M411.7,289.3h14.6M419,282v14.6"/><path d="M415.6,287.6h14.6M422.9,280.3v14.6"/><path d="M419.5,286.1h14.6M426.8,278.8v14.6"/><path d="M423.5,284.6h14.6M430.8,277.3v14.6"/><path d="M427.6,283.1h14.6M434.9,275.8v14.6"/><path d="M431.8,281.7h14.6M439.1,274.4v14.6"/><path d="M436,280.2h14.6M443.3,272.9v14.6"/><path d="M440.3,278.8h14.6M447.6,271.5v14.6"/><path d="M444.6,277.3h14.6M451.9,270v14.6"/><path d="M449.1,275.8h14.6M456.4,268.5v14.6"/><path d="M453.6,274.4h14.6M460.9,267.1v14.6"/><path d="M458.2,273.1h14.6M465.5,265.8v14.6"/><path d="M462.8,271.9h14.6M470.1,264.6v14.6"/><path d="M467.6,270.7h14.6M474.9,263.4v14.6"/><path d="M472.5,269.6h14.6M479.8,262.3v14.6"/><path d="M477.4,268.7h14.6M484.7,261.4v14.6"/><path d="M482.4,268.2h14.6M489.7,260.9v14.6"/><path d="M487.6,267.8h14.6M494.9,260.5v14.6"/><path d="M492.8,267.5h14.6M500.1,260.2v14.6"/><path d="M498.1,267.4h14.6M505.4,260.1v14.6"/><path d="M503.6,267.7h14.6M510.9,260.4v14.6"/><path d="M509.1,268.2h14.6M516.4,260.9v14.6"/><path d="M514.8,268.8h14.6M522.1,261.5v14.6"/><path d="M520.6,269.5h14.6M527.9,262.2v14.6"/><path d="M526.5,270.5h14.6M533.8,263.2v14.6"/><path d="M532.5,271.7h14.6M539.8,264.4v14.6"/><path d="M538.7,273h14.6M546,265.7v14.6"/><path d="M545,274.4h14.6M552.3,267.1v14.6"/><path d="M551.4,276h14.6M558.7,268.7v14.6"/><path d="M558,277.7h14.6M565.3,270.4v14.6"/><path d="M564.7,279.3h14.6M572,272v14.6"/><path d="M571.6,280.8h14.6M578.9,273.5v14.6"/><path d="M578.6,282.3h14.6M585.9,275v14.6"/><path d="M585.8,283.9h14.6M593.1,276.6v14.6"/><path d="M593.2,285.7h14.6M600.5,278.4v14.6"/><path d="M600.8,287.7h14.6M608.1,280.4v14.6"/><path d="M608.5,289.8h14.6M615.8,282.5v14.6"/><path d="M616.5,292.1h14.6M623.8,284.8v14.6"/><path d="M624.6,294.5h14.6M631.9,287.2v14.6"/><path d="M633,296.9h14.6M640.3,289.6v14.6"/><path d="M641.6,299.2h14.6M648.9,291.9v14.6"/><path d="M650.4,301.3h14.6M657.7,294v14.6"/><path d="M659.4,303.4h14.6M666.7,296.1v14.6"/><path d="M668.8,305.5h14.6M676.1,298.2v14.6"/><path d="M678.3,307.5h14.6M685.6,300.2v14.6"/><path d="M688.2,309.5h14.6M695.5,302.2v14.6"/><path d="M698.3,311.4h14.6M705.6,304.1v14.6"/><path d="M708.7,313.3h14.6M716,306v14.6"/><path d="M719.4,315.2h14.6M726.7,307.9v14.6"/><path d="M730.5,317h14.6M737.8,309.7v14.6"/><path d="M741.9,318.7h14.6M749.2,311.4v14.6"/><path d="M753.6,320.3h14.6M760.9,313v14.6"/><path d="M765.8,321.8h14.6M773.1,314.5v14.6"/><path d="M778.3,323.3h14.6M785.6,316v14.6"/><path d="M791.3,324.5h14.6M798.6,317.2v14.6"/><path d="M804.7,325.6h14.6M812,318.3v14.6"/></g>
<path d="M81.2,327.9 82.4,327.9 83.6,327.8 84.8,327.8 86,327.8 87.2,327.7 88.4,327.7 89.6,327.7 90.8,327.6 92,327.6 93.2,327.5 94.4,327.5 95.6,327.4 96.9,327.4 98.1,327.3 99.3,327.3 100.5,327.2 101.7,327.2 102.9,327.1 104.1,327.1 105.3,327 106.6,327 107.8,326.9 109,326.8 110.2,326.8 111.4,326.7 112.7,326.6 113.9,326.6 115.1,326.5 116.3,326.4 117.6,326.4 118.8,326.3 120.1,326.2 121.3,326.1 122.5,326.1 123.8,326 125,325.9 126.3,325.8 127.5,325.7 128.8,325.7 130,325.6 131.3,325.5 132.6,325.4 133.8,325.3 135.1,325.2 136.4,325.2 137.6,325.1 138.9,325 140.2,324.9 141.5,324.8 142.8,324.7 144.1,324.6 145.4,324.5 146.7,324.4 148,324.3 149.3,324.2 150.6,324.1 151.9,324 153.2,323.9 154.5,323.8 155.9,323.7 157.2,323.6 158.5,323.4 159.9,323.3 161.2,323.2 162.6,323 164,322.9 165.3,322.7 166.7,322.6 168.1,322.4 169.4,322.3 170.8,322.1 172.2,322 173.6,321.8 175,321.7 176.4,321.5 177.8,321.4 179.3,321.2 180.7,321 182.1,320.9 183.6,320.7 185,320.6 186.5,320.4 187.9,320.3 189.4,320.1 190.9,319.9 192.4,319.8 193.9,319.6 195.4,319.5 196.9,319.3 198.4,319.1 199.9,318.9 201.5,318.8 203,318.6 204.6,318.4 206.1,318.3 207.7,318.1 209.3,317.9 210.9,317.7 212.5,317.5 214.1,317.3 215.7,317.2 217.3,317 219,316.8 220.6,316.6 222.3,316.4 223.9,316.2 225.6,316 227.3,315.8 229,315.6 230.7,315.4 232.5,315.2 234.2,314.9 236,314.7 237.7,314.4 239.5,314.2 241.3,313.9 243.1,313.7 244.9,313.4 246.7,313.1 248.6,312.9 250.5,312.6 252.3,312.3 254.2,312.1 256.1,311.8 258,311.6 260,311.4 261.9,311.2 263.9,311 265.9,310.8 267.9,310.7 269.9,310.5 272,310.3 274,310.2 276.1,310.1 278.2,310 280.3,309.9 282.4,309.9 284.6,310 286.8,310.1 289,310.3 291.2,310.5 293.4,310.8 295.7,311.1 298,311.5 300.3,311.8 302.6,312.3 305,312.8 307.3,313.5 309.7,314.2 312.2,314.9 314.6,315.7 317.1,316.6 319.6,317.4 322.2,318.3 324.7,319.3 327.3,320.4 329.9,321.6 332.6,322.8 335.3,324.2 338,325.8 340.8,327.6 343.6,330 346.4,333 349.2,336.4 352.1,340.1 355,343.9 358,347.7 361,351.7 364.1,355.9 367.1,360.4 370.3,365.1 373.4,370.2 376.6,375.6 379.9,381.3 383.2,387.4 386.5,393.8 389.9,400.4 393.4,407.3 396.9,414.6 400.4,422 404,429.5 407.7,437 411.4,444.7 415.2,452.2 419,459.9 422.9,467.5 426.8,474.7 430.8,481.4 434.9,487.7 439.1,492.9 443.3,497.3 447.6,501 451.9,504.1 456.4,506.9 460.9,508.7 465.5,509.9 470.1,510.3 474.9,509.8 479.8,508.8 484.7,506.6 489.7,503.8 494.9,500.1 500.1,496 505.4,491.3 510.9,486.1 516.4,480.9 522.1,475.7 527.9,470.2 533.8,464.5 539.8,458.6 546,452.8 552.3,446.9 558.7,440.9 565.3,435 572,429.1 578.9,423.4 585.9,417.6 593.1,412.1 600.5,406.8 608.1,401.7 615.8,396.8 623.8,392.1 631.9,387.5 640.3,383 648.9,378.7 657.7,374.4 666.7,370.2 676.1,366.4 685.6,363.3 695.5,360.4 705.6,357.6 716,354.7 726.7,352 737.8,349.3 749.2,346.9 760.9,344.6 773.1,342.4 785.6,340 798.6,337.7 812,335.8 825.8,334.2 840.2,333.1" fill="none" stroke="#f00" stroke-width="2.1" stroke-linejoin="round" clip-path="url(#fr)"/>
<g fill="none" stroke="#f00" stroke-width="1.2"><circle cx="81.2" cy="327.9" r="7.3"/><circle cx="82.4" cy="327.9" r="7.3"/><circle cx="83.6" cy="327.8" r="7.3"/><circle cx="84.8" cy="327.8" r="7.3"/><circle cx="86" cy="327.8" r="7.3"/><circle cx="87.2" cy="327.7" r="7.3"/><circle cx="88.4" cy="327.7" r="7.3"/><circle cx="89.6" cy="327.7" r="7.3"/><circle cx="90.8" cy="327.6" r="7.3"/><circle cx="92" cy="327.6" r="7.3"/><circle cx="93.2" cy="327.5" r="7.3"/><circle cx="94.4" cy="327.5" r="7.3"/><circle cx="95.6" cy="327.4" r="7.3"/><circle cx="96.9" cy="327.4" r="7.3"/><circle cx="98.1" cy="327.3" r="7.3"/><circle cx="99.3" cy="327.3" r="7.3"/><circle cx="100.5" cy="327.2" r="7.3"/><circle cx="101.7" cy="327.2" r="7.3"/><circle cx="102.9" cy="327.1" r="7.3"/><circle cx="104.1" cy="327.1" r="7.3"/><circle cx="105.3" cy="327" r="7.3"/><circle cx="106.6" cy="327" r="7.3"/><circle cx="107.8" cy="326.9" r="7.3"/><circle cx="109" cy="326.8" r="7.3"/><circle cx="110.2" cy="326.8" r="7.3"/><circle cx="111.4" cy="326.7" r="7.3"/><circle cx="112.7" cy="326.6" r="7.3"/><circle cx="113.9" cy="326.6" r="7.3"/><circle cx="115.1" cy="326.5" r="7.3"/><circle cx="116.3" cy="326.4" r="7.3"/><circle cx="117.6" cy="326.4" r="7.3"/><circle cx="118.8" cy="326.3" r="7.3"/><circle cx="120.1" cy="326.2" r="7.3"/><circle cx="121.3" cy="326.1" r="7.3"/><circle cx="122.5" cy="326.1" r="7.3"/><circle cx="123.8" cy="326" r="7.3"/><circle cx="125" cy="325.9" r="7.3"/><circle cx="126.3" cy="325.8" r="7.3"/><circle cx="127.5" cy="325.7" r="7.3"/><circle cx="128.8" cy="325.7" r="7.3"/><circle cx="130" cy="325.6" r="7.3"/><circle cx="131.3" cy="325.5" r="7.3"/><circle cx="132.6" cy="325.4" r="7.3"/><circle cx="133.8" cy="325.3" r="7.3"/><circle cx="135.1" cy="325.2" r="7.3"/><circle cx="136.4" cy="325.2" r="7.3"/><circle cx="137.6" cy="325.1" r="7.3"/><circle cx="138.9" cy="325" r="7.3"/><circle cx="140.2" cy="324.9" r="7.3"/><circle cx="141.5" cy="324.8" r="7.3"/><circle cx="142.8" cy="324.7" r="7.3"/><circle cx="144.1" cy="324.6" r="7.3"/><circle cx="145.4" cy="324.5" r="7.3"/><circle cx="146.7" cy="324.4" r="7.3"/><circle cx="148" cy="324.3" r="7.3"/><circle cx="149.3" cy="324.2" r="7.3"/><circle cx="150.6" cy="324.1" r="7.3"/><circle cx="151.9" cy="324" r="7.3"/><circle cx="153.2" cy="323.9" r="7.3"/><circle cx="154.5" cy="323.8" r="7.3"/><circle cx="155.9" cy="323.7" r="7.3"/><circle cx="157.2" cy="323.6" r="7.3"/><circle cx="158.5" cy="323.4" r="7.3"/><circle cx="159.9" cy="323.3" r="7.3"/><circle cx="161.2" cy="323.2" r="7.3"/><circle cx="162.6" cy="323" r="7.3"/><circle cx="164" cy="322.9" r="7.3"/><circle cx="165.3" cy="322.7" r="7.3"/><circle cx="166.7" cy="322.6" r="7.3"/><circle cx="168.1" cy="322.4" r="7.3"/><circle cx="169.4" cy="322.3" r="7.3"/><circle cx="170.8" cy="322.1" r="7.3"/><circle cx="172.2" cy="322" r="7.3"/><circle cx="173.6" cy="321.8" r="7.3"/><circle cx="175" cy="321.7" r="7.3"/><circle cx="176.4" cy="321.5" r="7.3"/><circle cx="177.8" cy="321.4" r="7.3"/><circle cx="179.3" cy="321.2" r="7.3"/><circle cx="180.7" cy="321" r="7.3"/><circle cx="182.1" cy="320.9" r="7.3"/><circle cx="183.6" cy="320.7" r="7.3"/><circle cx="185" cy="320.6" r="7.3"/><circle cx="186.5" cy="320.4" r="7.3"/><circle cx="187.9" cy="320.3" r="7.3"/><circle cx="189.4" cy="320.1" r="7.3"/><circle cx="190.9" cy="319.9" r="7.3"/><circle cx="192.4" cy="319.8" r="7.3"/><circle cx="193.9" cy="319.6" r="7.3"/><circle cx="195.4" cy="319.5" r="7.3"/><circle cx="196.9" cy="319.3" r="7.3"/><circle cx="198.4" cy="319.1" r="7.3"/><circle cx="199.9" cy="318.9" r="7.3"/><circle cx="201.5" cy="318.8" r="7.3"/><circle cx="203" cy="318.6" r="7.3"/><circle cx="204.6" cy="318.4" r="7.3"/><circle cx="206.1" cy="318.3" r="7.3"/><circle cx="207.7" cy="318.1" r="7.3"/><circle cx="209.3" cy="317.9" r="7.3"/><circle cx="210.9" cy="317.7" r="7.3"/><circle cx="212.5" cy="317.5" r="7.3"/><circle cx="214.1" cy="317.3" r="7.3"/><circle cx="215.7" cy="317.2" r="7.3"/><circle cx="217.3" cy="317" r="7.3"/><circle cx="219" cy="316.8" r="7.3"/><circle cx="220.6" cy="316.6" r="7.3"/><circle cx="222.3" cy="316.4" r="7.3"/><circle cx="223.9" cy="316.2" r="7.3"/><circle cx="225.6" cy="316" r="7.3"/><circle cx="227.3" cy="315.8" r="7.3"/><circle cx="229" cy="315.6" r="7.3"/><circle cx="230.7" cy="315.4" r="7.3"/><circle cx="232.5" cy="315.2" r="7.3"/><circle cx="234.2" cy="314.9" r="7.3"/><circle cx="236" cy="314.7" r="7.3"/><circle cx="237.7" cy="314.4" r="7.3"/><circle cx="239.5" cy="314.2" r="7.3"/><circle cx="241.3" cy="313.9" r="7.3"/><circle cx="243.1" cy="313.7" r="7.3"/><circle cx="244.9" cy="313.4" r="7.3"/><circle cx="246.7" cy="313.1" r="7.3"/><circle cx="248.6" cy="312.9" r="7.3"/><circle cx="250.5" cy="312.6" r="7.3"/><circle cx="252.3" cy="312.3" r="7.3"/><circle cx="254.2" cy="312.1" r="7.3"/><circle cx="256.1" cy="311.8" r="7.3"/><circle cx="258" cy="311.6" r="7.3"/><circle cx="260" cy="311.4" r="7.3"/><circle cx="261.9" cy="311.2" r="7.3"/><circle cx="263.9" cy="311" r="7.3"/><circle cx="265.9" cy="310.8" r="7.3"/><circle cx="267.9" cy="310.7" r="7.3"/><circle cx="269.9" cy="310.5" r="7.3"/><circle cx="272" cy="310.3" r="7.3"/><circle cx="274" cy="310.2" r="7.3"/><circle cx="276.1" cy="310.1" r="7.3"/><circle cx="278.2" cy="310" r="7.3"/><circle cx="280.3" cy="309.9" r="7.3"/><circle cx="282.4" cy="309.9" r="7.3"/><circle cx="284.6" cy="310" r="7.3"/><circle cx="286.8" cy="310.1" r="7.3"/><circle cx="289" cy="310.3" r="7.3"/><circle cx="291.2" cy="310.5" r="7.3"/><circle cx="293.4" cy="310.8" r="7.3"/><circle cx="295.7" cy="311.1" r="7.3"/><circle cx="298" cy="311.5" r="7.3"/><circle cx="300.3" cy="311.8" r="7.3"/><circle cx="302.6" cy="312.3" r="7.3"/><circle cx="305" cy="312.8" r="7.3"/><circle cx="307.3" cy="313.5" r="7.3"/><circle cx="309.7" cy="314.2" r="7.3"/><circle cx="312.2" cy="314.9" r="7.3"/><circle cx="314.6" cy="315.7" r="7.3"/><circle cx="317.1" cy="316.6" r="7.3"/><circle cx="319.6" cy="317.4" r="7.3"/><circle cx="322.2" cy="318.3" r="7.3"/><circle cx="324.7" cy="319.3" r="7.3"/><circle cx="327.3" cy="320.4" r="7.3"/><circle cx="329.9" cy="321.6" r="7.3"/><circle cx="332.6" cy="322.8" r="7.3"/><circle cx="335.3" cy="324.2" r="7.3"/><circle cx="338" cy="325.8" r="7.3"/><circle cx="340.8" cy="327.6" r="7.3"/><circle cx="343.6" cy="330" r="7.3"/><circle cx="346.4" cy="333" r="7.3"/><circle cx="349.2" cy="336.4" r="7.3"/><circle cx="352.1" cy="340.1" r="7.3"/><circle cx="355" cy="343.9" r="7.3"/><circle cx="358" cy="347.7" r="7.3"/><circle cx="361" cy="351.7" r="7.3"/><circle cx="364.1" cy="355.9" r="7.3"/><circle cx="367.1" cy="360.4" r="7.3"/><circle cx="370.3" cy="365.1" r="7.3"/><circle cx="373.4" cy="370.2" r="7.3"/><circle cx="376.6" cy="375.6" r="7.3"/><circle cx="379.9" cy="381.3" r="7.3"/><circle cx="383.2" cy="387.4" r="7.3"/><circle cx="386.5" cy="393.8" r="7.3"/><circle cx="389.9" cy="400.4" r="7.3"/><circle cx="393.4" cy="407.3" r="7.3"/><circle cx="396.9" cy="414.6" r="7.3"/><circle cx="400.4" cy="422" r="7.3"/><circle cx="404" cy="429.5" r="7.3"/><circle cx="407.7" cy="437" r="7.3"/><circle cx="411.4" cy="444.7" r="7.3"/><circle cx="415.2" cy="452.2" r="7.3"/><circle cx="419" cy="459.9" r="7.3"/><circle cx="422.9" cy="467.5" r="7.3"/><circle cx="426.8" cy="474.7" r="7.3"/><circle cx="430.8" cy="481.4" r="7.3"/><circle cx="434.9" cy="487.7" r="7.3"/><circle cx="439.1" cy="492.9" r="7.3"/><circle cx="443.3" cy="497.3" r="7.3"/><circle cx="447.6" cy="501" r="7.3"/><circle cx="451.9" cy="504.1" r="7.3"/><circle cx="456.4" cy="506.9" r="7.3"/><circle cx="460.9" cy="508.7" r="7.3"/><circle cx="465.5" cy="509.9" r="7.3"/><circle cx="470.1" cy="510.3" r="7.3"/><circle cx="474.9" cy="509.8" r="7.3"/><circle cx="479.8" cy="508.8" r="7.3"/><circle cx="484.7" cy="506.6" r="7.3"/><circle cx="489.7" cy="503.8" r="7.3"/><circle cx="494.9" cy="500.1" r="7.3"/><circle cx="500.1" cy="496" r="7.3"/><circle cx="505.4" cy="491.3" r="7.3"/><circle cx="510.9" cy="486.1" r="7.3"/><circle cx="516.4" cy="480.9" r="7.3"/><circle cx="522.1" cy="475.7" r="7.3"/><circle cx="527.9" cy="470.2" r="7.3"/><circle cx="533.8" cy="464.5" r="7.3"/><circle cx="539.8" cy="458.6" r="7.3"/><circle cx="546" cy="452.8" r="7.3"/><circle cx="552.3" cy="446.9" r="7.3"/><circle cx="558.7" cy="440.9" r="7.3"/><circle cx="565.3" cy="435" r="7.3"/><circle cx="572" cy="429.1" r="7.3"/><circle cx="578.9" cy="423.4" r="7.3"/><circle cx="585.9" cy="417.6" r="7.3"/><circle cx="593.1" cy="412.1" r="7.3"/><circle cx="600.5" cy="406.8" r="7.3"/><circle cx="608.1" cy="401.7" r="7.3"/><circle cx="615.8" cy="396.8" r="7.3"/><circle cx="623.8" cy="392.1" r="7.3"/><circle cx="631.9" cy="387.5" r="7.3"/><circle cx="640.3" cy="383" r="7.3"/><circle cx="648.9" cy="378.7" r="7.3"/><circle cx="657.7" cy="374.4" r="7.3"/><circle cx="666.7" cy="370.2" r="7.3"/><circle cx="676.1" cy="366.4" r="7.3"/><circle cx="685.6" cy="363.3" r="7.3"/><circle cx="695.5" cy="360.4" r="7.3"/><circle cx="705.6" cy="357.6" r="7.3"/><circle cx="716" cy="354.7" r="7.3"/><circle cx="726.7" cy="352" r="7.3"/><circle cx="737.8" cy="349.3" r="7.3"/><circle cx="749.2" cy="346.9" r="7.3"/><circle cx="760.9" cy="344.6" r="7.3"/><circle cx="773.1" cy="342.4" r="7.3"/><circle cx="785.6" cy="340" r="7.3"/><circle cx="798.6" cy="337.7" r="7.3"/><circle cx="812" cy="335.8" r="7.3"/></g>
<path d="M81.2,327.9 82.4,327.9 83.6,327.9 84.8,327.9 86,327.8 87.2,327.8 88.4,327.8 89.6,327.8 90.8,327.8 92,327.8 93.2,327.7 94.4,327.7 95.6,327.7 96.9,327.7 98.1,327.7 99.3,327.6 100.5,327.6 101.7,327.6 102.9,327.6 104.1,327.6 105.3,327.5 106.6,327.5 107.8,327.5 109,327.5 110.2,327.4 111.4,327.4 112.7,327.4 113.9,327.4 115.1,327.3 116.3,327.3 117.6,327.3 118.8,327.2 120.1,327.2 121.3,327.2 122.5,327.1 123.8,327.1 125,327.1 126.3,327 127.5,327 128.8,327 130,327 131.3,326.9 132.6,326.9 133.8,326.8 135.1,326.8 136.4,326.8 137.6,326.7 138.9,326.7 140.2,326.7 141.5,326.6 142.8,326.6 144.1,326.6 145.4,326.5 146.7,326.5 148,326.4 149.3,326.4 150.6,326.4 151.9,326.3 153.2,326.3 154.5,326.2 155.9,326.2 157.2,326.1 158.5,326.1 159.9,326 161.2,326 162.6,325.9 164,325.9 165.3,325.8 166.7,325.8 168.1,325.7 169.4,325.6 170.8,325.6 172.2,325.5 173.6,325.4 175,325.4 176.4,325.3 177.8,325.3 179.3,325.2 180.7,325.1 182.1,325.1 183.6,325 185,324.9 186.5,324.9 187.9,324.8 189.4,324.8 190.9,324.7 192.4,324.6 193.9,324.6 195.4,324.5 196.9,324.4 198.4,324.3 199.9,324.3 201.5,324.2 203,324.1 204.6,324.1 206.1,324 207.7,323.9 209.3,323.8 210.9,323.8 212.5,323.7 214.1,323.6 215.7,323.5 217.3,323.5 219,323.4 220.6,323.3 222.3,323.2 223.9,323.1 225.6,323.1 227.3,323 229,322.9 230.7,322.8 232.5,322.7 234.2,322.6 236,322.5 237.7,322.4 239.5,322.3 241.3,322.2 243.1,322.1 244.9,322 246.7,321.9 248.6,321.8 250.5,321.7 252.3,321.6 254.2,321.5 256.1,321.4 258,321.4 260,321.3 261.9,321.2 263.9,321.1 265.9,321 267.9,321 269.9,320.9 272,320.8 274,320.8 276.1,320.7 278.2,320.7 280.3,320.7 282.4,320.6 284.6,320.7 286.8,320.7 289,320.8 291.2,320.9 293.4,321 295.7,321.1 298,321.2 300.3,321.3 302.6,321.5 305,321.7 307.3,322 309.7,322.3 312.2,322.6 314.6,322.9 317.1,323.2 319.6,323.6 322.2,324 324.7,324.4 327.3,324.9 329.9,325.4 332.6,325.9 335.3,326.4 338,327 340.8,327.8 343.6,328.8 346.4,330.3 349.2,332.1 352.1,334.2 355,336.5 358,339 361,341.5 364.1,344.1 367.1,346.6 370.3,349.3 373.4,352.1 376.6,355.1 379.9,358 383.2,360.9 386.5,363.8 389.9,366.7 393.4,369.8 396.9,373 400.4,376.4 404,379.8 407.7,383.5 411.4,387.4 415.2,391.7 419,396.3 422.9,400.9 426.8,405.4 430.8,409.4 434.9,413.3 439.1,417.1 443.3,420.7 447.6,424 451.9,427 456.4,429.8 460.9,432.3 465.5,434.4 470.1,436.1 474.9,437.5 479.8,438.5 484.7,439.3 489.7,439.5 494.9,439.2 500.1,438.6 505.4,437.5 510.9,435.9 516.4,433.8 522.1,431.1 527.9,428.5 533.8,426 539.8,423.3 546,420.5 552.3,417.4 558.7,414.2 565.3,410.8 572,407.4 578.9,403.9 585.9,400.3 593.1,396.8 600.5,393.3 608.1,389.8 615.8,386.3 623.8,382.9 631.9,379.6 640.3,376.3 648.9,372.8 657.7,369.2 666.7,365.7 676.1,362.3 685.6,359 695.5,356 705.6,353.1 716,350.3 726.7,347.8 737.8,345.5 749.2,343.4 760.9,341.5 773.1,339.6 785.6,337.8 798.6,336 812,334.4 825.8,333 840.2,331.8" fill="none" stroke="#f00" stroke-width="2.1" stroke-linejoin="round" clip-path="url(#fr)"/>
<g fill="none" stroke="#f00" stroke-width="1.2"><rect x="75" y="321.7" width="12.4" height="12.4"/><rect x="76.2" y="321.7" width="12.4" height="12.4"/><rect x="77.4" y="321.7" width="12.4" height="12.4"/><rect x="78.6" y="321.7" width="12.4" height="12.4"/><rect x="79.8" y="321.6" width="12.4" height="12.4"/><rect x="81" y="321.6" width="12.4" height="12.4"/><rect x="82.2" y="321.6" width="12.4" height="12.4"/><rect x="83.4" y="321.6" width="12.4" height="12.4"/><rect x="84.6" y="321.6" width="12.4" height="12.4"/><rect x="85.8" y="321.6" width="12.4" height="12.4"/><rect x="87" y="321.5" width="12.4" height="12.4"/><rect x="88.2" y="321.5" width="12.4" height="12.4"/><rect x="89.4" y="321.5" width="12.4" height="12.4"/><rect x="90.7" y="321.5" width="12.4" height="12.4"/><rect x="91.9" y="321.5" width="12.4" height="12.4"/><rect x="93.1" y="321.4" width="12.4" height="12.4"/><rect x="94.3" y="321.4" width="12.4" height="12.4"/><rect x="95.5" y="321.4" width="12.4" height="12.4"/><rect x="96.7" y="321.4" width="12.4" height="12.4"/><rect x="97.9" y="321.4" width="12.4" height="12.4"/><rect x="99.1" y="321.3" width="12.4" height="12.4"/><rect x="100.4" y="321.3" width="12.4" height="12.4"/><rect x="101.6" y="321.3" width="12.4" height="12.4"/><rect x="102.8" y="321.3" width="12.4" height="12.4"/><rect x="104" y="321.2" width="12.4" height="12.4"/><rect x="105.2" y="321.2" width="12.4" height="12.4"/><rect x="106.5" y="321.2" width="12.4" height="12.4"/><rect x="107.7" y="321.1" width="12.4" height="12.4"/><rect x="108.9" y="321.1" width="12.4" height="12.4"/><rect x="110.1" y="321.1" width="12.4" height="12.4"/><rect x="111.4" y="321.1" width="12.4" height="12.4"/><rect x="112.6" y="321" width="12.4" height="12.4"/><rect x="113.8" y="321" width="12.4" height="12.4"/><rect x="115.1" y="321" width="12.4" height="12.4"/><rect x="116.3" y="320.9" width="12.4" height="12.4"/><rect x="117.6" y="320.9" width="12.4" height="12.4"/><rect x="118.8" y="320.9" width="12.4" height="12.4"/><rect x="120.1" y="320.8" width="12.4" height="12.4"/><rect x="121.3" y="320.8" width="12.4" height="12.4"/><rect x="122.6" y="320.8" width="12.4" height="12.4"/><rect x="123.8" y="320.7" width="12.4" height="12.4"/><rect x="125.1" y="320.7" width="12.4" height="12.4"/><rect x="126.3" y="320.7" width="12.4" height="12.4"/><rect x="127.6" y="320.6" width="12.4" height="12.4"/><rect x="128.9" y="320.6" width="12.4" height="12.4"/><rect x="130.2" y="320.6" width="12.4" height="12.4"/><rect x="131.4" y="320.5" width="12.4" height="12.4"/><rect x="132.7" y="320.5" width="12.4" height="12.4"/><rect x="134" y="320.5" width="12.4" height="12.4"/><rect x="135.3" y="320.4" width="12.4" height="12.4"/><rect x="136.6" y="320.4" width="12.4" height="12.4"/><rect x="137.9" y="320.4" width="12.4" height="12.4"/><rect x="139.1" y="320.3" width="12.4" height="12.4"/><rect x="140.4" y="320.3" width="12.4" height="12.4"/><rect x="141.8" y="320.2" width="12.4" height="12.4"/><rect x="143.1" y="320.2" width="12.4" height="12.4"/><rect x="144.4" y="320.2" width="12.4" height="12.4"/><rect x="145.7" y="320.1" width="12.4" height="12.4"/><rect x="147" y="320.1" width="12.4" height="12.4"/><rect x="148.3" y="320" width="12.4" height="12.4"/><rect x="149.7" y="320" width="12.4" height="12.4"/><rect x="151" y="319.9" width="12.4" height="12.4"/><rect x="152.3" y="319.9" width="12.4" height="12.4"/><rect x="153.7" y="319.8" width="12.4" height="12.4"/><rect x="155" y="319.8" width="12.4" height="12.4"/><rect x="156.4" y="319.7" width="12.4" height="12.4"/><rect x="157.7" y="319.7" width="12.4" height="12.4"/><rect x="159.1" y="319.6" width="12.4" height="12.4"/><rect x="160.5" y="319.5" width="12.4" height="12.4"/><rect x="161.9" y="319.5" width="12.4" height="12.4"/><rect x="163.2" y="319.4" width="12.4" height="12.4"/><rect x="164.6" y="319.4" width="12.4" height="12.4"/><rect x="166" y="319.3" width="12.4" height="12.4"/><rect x="167.4" y="319.2" width="12.4" height="12.4"/><rect x="168.8" y="319.2" width="12.4" height="12.4"/><rect x="170.2" y="319.1" width="12.4" height="12.4"/><rect x="171.6" y="319.1" width="12.4" height="12.4"/><rect x="173.1" y="319" width="12.4" height="12.4"/><rect x="174.5" y="318.9" width="12.4" height="12.4"/><rect x="175.9" y="318.9" width="12.4" height="12.4"/><rect x="177.4" y="318.8" width="12.4" height="12.4"/><rect x="178.8" y="318.7" width="12.4" height="12.4"/><rect x="180.3" y="318.7" width="12.4" height="12.4"/><rect x="181.7" y="318.6" width="12.4" height="12.4"/><rect x="183.2" y="318.5" width="12.4" height="12.4"/><rect x="184.7" y="318.5" width="12.4" height="12.4"/><rect x="186.2" y="318.4" width="12.4" height="12.4"/><rect x="187.7" y="318.3" width="12.4" height="12.4"/><rect x="189.2" y="318.3" width="12.4" height="12.4"/><rect x="190.7" y="318.2" width="12.4" height="12.4"/><rect x="192.2" y="318.1" width="12.4" height="12.4"/><rect x="193.7" y="318.1" width="12.4" height="12.4"/><rect x="195.3" y="318" width="12.4" height="12.4"/><rect x="196.8" y="317.9" width="12.4" height="12.4"/><rect x="198.4" y="317.9" width="12.4" height="12.4"/><rect x="199.9" y="317.8" width="12.4" height="12.4"/><rect x="201.5" y="317.7" width="12.4" height="12.4"/><rect x="203.1" y="317.6" width="12.4" height="12.4"/><rect x="204.7" y="317.6" width="12.4" height="12.4"/><rect x="206.3" y="317.5" width="12.4" height="12.4"/><rect x="207.9" y="317.4" width="12.4" height="12.4"/><rect x="209.5" y="317.3" width="12.4" height="12.4"/><rect x="211.1" y="317.3" width="12.4" height="12.4"/><rect x="212.7" y="317.2" width="12.4" height="12.4"/><rect x="214.4" y="317.1" width="12.4" height="12.4"/><rect x="216.1" y="317" width="12.4" height="12.4"/><rect x="217.7" y="316.9" width="12.4" height="12.4"/><rect x="219.4" y="316.9" width="12.4" height="12.4"/><rect x="221.1" y="316.8" width="12.4" height="12.4"/><rect x="222.8" y="316.7" width="12.4" height="12.4"/><rect x="224.5" y="316.6" width="12.4" height="12.4"/><rect x="226.3" y="316.5" width="12.4" height="12.4"/><rect x="228" y="316.4" width="12.4" height="12.4"/><rect x="229.7" y="316.3" width="12.4" height="12.4"/><rect x="231.5" y="316.2" width="12.4" height="12.4"/><rect x="233.3" y="316.1" width="12.4" height="12.4"/><rect x="235.1" y="316" width="12.4" height="12.4"/><rect x="236.9" y="315.9" width="12.4" height="12.4"/><rect x="238.7" y="315.8" width="12.4" height="12.4"/><rect x="240.5" y="315.7" width="12.4" height="12.4"/><rect x="242.4" y="315.6" width="12.4" height="12.4"/><rect x="244.2" y="315.5" width="12.4" height="12.4"/><rect x="246.1" y="315.4" width="12.4" height="12.4"/><rect x="248" y="315.3" width="12.4" height="12.4"/><rect x="249.9" y="315.2" width="12.4" height="12.4"/><rect x="251.8" y="315.2" width="12.4" height="12.4"/><rect x="253.8" y="315.1" width="12.4" height="12.4"/><rect x="255.7" y="315" width="12.4" height="12.4"/><rect x="257.7" y="314.9" width="12.4" height="12.4"/><rect x="259.7" y="314.8" width="12.4" height="12.4"/><rect x="261.7" y="314.8" width="12.4" height="12.4"/><rect x="263.7" y="314.7" width="12.4" height="12.4"/><rect x="265.8" y="314.6" width="12.4" height="12.4"/><rect x="267.8" y="314.6" width="12.4" height="12.4"/><rect x="269.9" y="314.5" width="12.4" height="12.4"/><rect x="272" y="314.5" width="12.4" height="12.4"/><rect x="274.1" y="314.4" width="12.4" height="12.4"/><rect x="276.2" y="314.4" width="12.4" height="12.4"/><rect x="278.4" y="314.5" width="12.4" height="12.4"/><rect x="280.6" y="314.5" width="12.4" height="12.4"/><rect x="282.8" y="314.6" width="12.4" height="12.4"/><rect x="285" y="314.7" width="12.4" height="12.4"/><rect x="287.2" y="314.8" width="12.4" height="12.4"/><rect x="289.5" y="314.9" width="12.4" height="12.4"/><rect x="291.8" y="315" width="12.4" height="12.4"/><rect x="294.1" y="315.1" width="12.4" height="12.4"/><rect x="296.4" y="315.3" width="12.4" height="12.4"/><rect x="298.8" y="315.5" width="12.4" height="12.4"/><rect x="301.1" y="315.8" width="12.4" height="12.4"/><rect x="303.5" y="316.1" width="12.4" height="12.4"/><rect x="306" y="316.4" width="12.4" height="12.4"/><rect x="308.4" y="316.7" width="12.4" height="12.4"/><rect x="310.9" y="317" width="12.4" height="12.4"/><rect x="313.4" y="317.4" width="12.4" height="12.4"/><rect x="316" y="317.8" width="12.4" height="12.4"/><rect x="318.5" y="318.2" width="12.4" height="12.4"/><rect x="321.1" y="318.7" width="12.4" height="12.4"/><rect x="323.7" y="319.2" width="12.4" height="12.4"/><rect x="326.4" y="319.7" width="12.4" height="12.4"/><rect x="329.1" y="320.2" width="12.4" height="12.4"/><rect x="331.8" y="320.8" width="12.4" height="12.4"/><rect x="334.6" y="321.6" width="12.4" height="12.4"/><rect x="337.3" y="322.6" width="12.4" height="12.4"/><rect x="340.2" y="324.1" width="12.4" height="12.4"/><rect x="343" y="325.9" width="12.4" height="12.4"/><rect x="345.9" y="328" width="12.4" height="12.4"/><rect x="348.8" y="330.3" width="12.4" height="12.4"/><rect x="351.8" y="332.7" width="12.4" height="12.4"/><rect x="354.8" y="335.3" width="12.4" height="12.4"/><rect x="357.9" y="337.9" width="12.4" height="12.4"/><rect x="360.9" y="340.4" width="12.4" height="12.4"/><rect x="364.1" y="343.1" width="12.4" height="12.4"/><rect x="367.2" y="345.9" width="12.4" height="12.4"/><rect x="370.4" y="348.8" width="12.4" height="12.4"/><rect x="373.7" y="351.8" width="12.4" height="12.4"/><rect x="377" y="354.7" width="12.4" height="12.4"/><rect x="380.3" y="357.6" width="12.4" height="12.4"/><rect x="383.7" y="360.5" width="12.4" height="12.4"/><rect x="387.2" y="363.6" width="12.4" height="12.4"/><rect x="390.7" y="366.8" width="12.4" height="12.4"/><rect x="394.2" y="370.1" width="12.4" height="12.4"/><rect x="397.8" y="373.6" width="12.4" height="12.4"/><rect x="401.5" y="377.3" width="12.4" height="12.4"/><rect x="405.2" y="381.2" width="12.4" height="12.4"/><rect x="408.9" y="385.5" width="12.4" height="12.4"/><rect x="412.8" y="390.1" width="12.4" height="12.4"/><rect x="416.7" y="394.7" width="12.4" height="12.4"/><rect x="420.6" y="399.2" width="12.4" height="12.4"/><rect x="424.6" y="403.2" width="12.4" height="12.4"/><rect x="428.7" y="407.1" width="12.4" height="12.4"/><rect x="432.8" y="410.9" width="12.4" height="12.4"/><rect x="437.1" y="414.5" width="12.4" height="12.4"/><rect x="441.3" y="417.8" width="12.4" height="12.4"/><rect x="445.7" y="420.8" width="12.4" height="12.4"/><rect x="450.1" y="423.6" width="12.4" height="12.4"/><rect x="454.7" y="426.1" width="12.4" height="12.4"/><rect x="459.3" y="428.2" width="12.4" height="12.4"/><rect x="463.9" y="429.9" width="12.4" height="12.4"/><rect x="468.7" y="431.3" width="12.4" height="12.4"/><rect x="473.5" y="432.3" width="12.4" height="12.4"/><rect x="478.5" y="433.1" width="12.4" height="12.4"/><rect x="483.5" y="433.3" width="12.4" height="12.4"/><rect x="488.7" y="433" width="12.4" height="12.4"/><rect x="493.9" y="432.4" width="12.4" height="12.4"/><rect x="499.2" y="431.3" width="12.4" height="12.4"/><rect x="504.7" y="429.7" width="12.4" height="12.4"/><rect x="510.2" y="427.5" width="12.4" height="12.4"/><rect x="515.9" y="424.9" width="12.4" height="12.4"/><rect x="521.7" y="422.3" width="12.4" height="12.4"/><rect x="527.6" y="419.7" width="12.4" height="12.4"/><rect x="533.6" y="417.1" width="12.4" height="12.4"/><rect x="539.8" y="414.3" width="12.4" height="12.4"/><rect x="546.1" y="411.2" width="12.4" height="12.4"/><rect x="552.5" y="408" width="12.4" height="12.4"/><rect x="559.1" y="404.6" width="12.4" height="12.4"/><rect x="565.8" y="401.1" width="12.4" height="12.4"/><rect x="572.7" y="397.7" width="12.4" height="12.4"/><rect x="579.7" y="394.1" width="12.4" height="12.4"/><rect x="586.9" y="390.6" width="12.4" height="12.4"/><rect x="594.3" y="387.1" width="12.4" height="12.4"/><rect x="601.9" y="383.6" width="12.4" height="12.4"/><rect x="609.6" y="380.1" width="12.4" height="12.4"/><rect x="617.6" y="376.7" width="12.4" height="12.4"/><rect x="625.7" y="373.4" width="12.4" height="12.4"/><rect x="634.1" y="370.1" width="12.4" height="12.4"/><rect x="642.7" y="366.6" width="12.4" height="12.4"/><rect x="651.5" y="363" width="12.4" height="12.4"/><rect x="660.5" y="359.5" width="12.4" height="12.4"/><rect x="669.8" y="356.1" width="12.4" height="12.4"/><rect x="679.4" y="352.8" width="12.4" height="12.4"/><rect x="689.2" y="349.7" width="12.4" height="12.4"/><rect x="699.4" y="346.8" width="12.4" height="12.4"/><rect x="709.8" y="344.1" width="12.4" height="12.4"/><rect x="720.5" y="341.6" width="12.4" height="12.4"/><rect x="731.6" y="339.3" width="12.4" height="12.4"/><rect x="743" y="337.2" width="12.4" height="12.4"/><rect x="754.7" y="335.3" width="12.4" height="12.4"/><rect x="766.9" y="333.4" width="12.4" height="12.4"/><rect x="779.4" y="331.5" width="12.4" height="12.4"/><rect x="792.4" y="329.8" width="12.4" height="12.4"/><rect x="805.8" y="328.2" width="12.4" height="12.4"/></g>
<path d="M81.2,327.9 82.4,327.9 83.6,327.9 84.8,327.9 86,327.9 87.2,327.9 88.4,327.9 89.6,327.8 90.8,327.8 92,327.8 93.2,327.8 94.4,327.8 95.6,327.8 96.9,327.8 98.1,327.8 99.3,327.8 100.5,327.8 101.7,327.8 102.9,327.7 104.1,327.7 105.3,327.7 106.6,327.7 107.8,327.7 109,327.7 110.2,327.7 111.4,327.7 112.7,327.7 113.9,327.6 115.1,327.6 116.3,327.6 117.6,327.6 118.8,327.6 120.1,327.6 121.3,327.6 122.5,327.5 123.8,327.5 125,327.5 126.3,327.5 127.5,327.5 128.8,327.5 130,327.5 131.3,327.4 132.6,327.4 133.8,327.4 135.1,327.4 136.4,327.4 137.6,327.4 138.9,327.4 140.2,327.3 141.5,327.3 142.8,327.3 144.1,327.3 145.4,327.3 146.7,327.3 148,327.2 149.3,327.2 150.6,327.2 151.9,327.2 153.2,327.2 154.5,327.1 155.9,327.1 157.2,327.1 158.5,327.1 159.9,327.1 161.2,327 162.6,327 164,327 165.3,327 166.7,326.9 168.1,326.9 169.4,326.9 170.8,326.9 172.2,326.9 173.6,326.8 175,326.8 176.4,326.8 177.8,326.7 179.3,326.7 180.7,326.7 182.1,326.7 183.6,326.6 185,326.6 186.5,326.6 187.9,326.6 189.4,326.5 190.9,326.5 192.4,326.5 193.9,326.4 195.4,326.4 196.9,326.4 198.4,326.4 199.9,326.3 201.5,326.3 203,326.3 204.6,326.2 206.1,326.2 207.7,326.2 209.3,326.1 210.9,326.1 212.5,326.1 214.1,326 215.7,326 217.3,326 219,325.9 220.6,325.9 222.3,325.9 223.9,325.8 225.6,325.8 227.3,325.8 229,325.7 230.7,325.7 232.5,325.6 234.2,325.6 236,325.6 237.7,325.5 239.5,325.5 241.3,325.4 243.1,325.4 244.9,325.4 246.7,325.3 248.6,325.3 250.5,325.2 252.3,325.2 254.2,325.2 256.1,325.1 258,325.1 260,325 261.9,325 263.9,325 265.9,324.9 267.9,324.9 269.9,324.8 272,324.8 274,324.8 276.1,324.7 278.2,324.7 280.3,324.7 282.4,324.7 284.6,324.7 286.8,324.7 289,324.7 291.2,324.8 293.4,324.9 295.7,324.9 298,325 300.3,325.1 302.6,325.2 305,325.3 307.3,325.4 309.7,325.5 312.2,325.6 314.6,325.8 317.1,325.9 319.6,326.1 322.2,326.2 324.7,326.4 327.3,326.6 329.9,326.8 332.6,327 335.3,327.2 338,327.5 340.8,327.8 343.6,328.3 346.4,329 349.2,329.8 352.1,330.8 355,331.8 358,332.8 361,333.9 364.1,335 367.1,336.2 370.3,337.5 373.4,339 376.6,340.6 379.9,342.6 383.2,344.7 386.5,347 389.9,349.3 393.4,351.5 396.9,353.8 400.4,356.2 404,358.4 407.7,360.6 411.4,362.7 415.2,364.7 419,366.5 422.9,368.2 426.8,369.7 430.8,371.2 434.9,372.7 439.1,374.1 443.3,375.6 447.6,377 451.9,378.5 456.4,380 460.9,381.4 465.5,382.7 470.1,383.9 474.9,385.1 479.8,386.2 484.7,387.1 489.7,387.6 494.9,388 500.1,388.3 505.4,388.4 510.9,388.1 516.4,387.6 522.1,387 527.9,386.3 533.8,385.3 539.8,384.1 546,382.8 552.3,381.4 558.7,379.8 565.3,378.1 572,376.5 578.9,375 585.9,373.5 593.1,371.9 600.5,370.1 608.1,368.1 615.8,366 623.8,363.7 631.9,361.3 640.3,358.9 648.9,356.6 657.7,354.5 666.7,352.4 676.1,350.3 685.6,348.3 695.5,346.3 705.6,344.4 716,342.5 726.7,340.6 737.8,338.8 749.2,337.1 760.9,335.5 773.1,334 785.6,332.5 798.6,331.3 812,330.2 825.8,329.3 840.2,328.5" fill="none" stroke="#f00" stroke-width="2.1" stroke-linejoin="round" clip-path="url(#fr)"/>
<g fill="none" stroke="#f00" stroke-width="1.2"><path d="M73.9,327.9h14.6M81.2,320.6v14.6"/><path d="M75.1,327.9h14.6M82.4,320.6v14.6"/><path d="M76.3,327.9h14.6M83.6,320.6v14.6"/><path d="M77.5,327.9h14.6M84.8,320.6v14.6"/><path d="M78.7,327.9h14.6M86,320.6v14.6"/><path d="M79.9,327.9h14.6M87.2,320.6v14.6"/><path d="M81.1,327.9h14.6M88.4,320.6v14.6"/><path d="M82.3,327.8h14.6M89.6,320.5v14.6"/><path d="M83.5,327.8h14.6M90.8,320.5v14.6"/><path d="M84.7,327.8h14.6M92,320.5v14.6"/><path d="M85.9,327.8h14.6M93.2,320.5v14.6"/><path d="M87.1,327.8h14.6M94.4,320.5v14.6"/><path d="M88.3,327.8h14.6M95.6,320.5v14.6"/><path d="M89.6,327.8h14.6M96.9,320.5v14.6"/><path d="M90.8,327.8h14.6M98.1,320.5v14.6"/><path d="M92,327.8h14.6M99.3,320.5v14.6"/><path d="M93.2,327.8h14.6M100.5,320.5v14.6"/><path d="M94.4,327.8h14.6M101.7,320.5v14.6"/><path d="M95.6,327.7h14.6M102.9,320.4v14.6"/><path d="M96.8,327.7h14.6M104.1,320.4v14.6"/><path d="M98,327.7h14.6M105.3,320.4v14.6"/><path d="M99.3,327.7h14.6M106.6,320.4v14.6"/><path d="M100.5,327.7h14.6M107.8,320.4v14.6"/><path d="M101.7,327.7h14.6M109,320.4v14.6"/><path d="M102.9,327.7h14.6M110.2,320.4v14.6"/><path d="M104.1,327.7h14.6M111.4,320.4v14.6"/><path d="M105.4,327.7h14.6M112.7,320.4v14.6"/><path d="M106.6,327.6h14.6M113.9,320.3v14.6"/><path d="M107.8,327.6h14.6M115.1,320.3v14.6"/><path d="M109,327.6h14.6M116.3,320.3v14.6"/><path d="M110.3,327.6h14.6M117.6,320.3v14.6"/><path d="M111.5,327.6h14.6M118.8,320.3v14.6"/><path d="M112.8,327.6h14.6M120.1,320.3v14.6"/><path d="M114,327.6h14.6M121.3,320.3v14.6"/><path d="M115.2,327.5h14.6M122.5,320.2v14.6"/><path d="M116.5,327.5h14.6M123.8,320.2v14.6"/><path d="M117.7,327.5h14.6M125,320.2v14.6"/><path d="M119,327.5h14.6M126.3,320.2v14.6"/><path d="M120.2,327.5h14.6M127.5,320.2v14.6"/><path d="M121.5,327.5h14.6M128.8,320.2v14.6"/><path d="M122.7,327.5h14.6M130,320.2v14.6"/><path d="M124,327.4h14.6M131.3,320.1v14.6"/><path d="M125.3,327.4h14.6M132.6,320.1v14.6"/><path d="M126.5,327.4h14.6M133.8,320.1v14.6"/><path d="M127.8,327.4h14.6M135.1,320.1v14.6"/><path d="M129.1,327.4h14.6M136.4,320.1v14.6"/><path d="M130.3,327.4h14.6M137.6,320.1v14.6"/><path d="M131.6,327.4h14.6M138.9,320.1v14.6"/><path d="M132.9,327.3h14.6M140.2,320v14.6"/><path d="M134.2,327.3h14.6M141.5,320v14.6"/><path d="M135.5,327.3h14.6M142.8,320v14.6"/><path d="M136.8,327.3h14.6M144.1,320v14.6"/><path d="M138.1,327.3h14.6M145.4,320v14.6"/><path d="M139.4,327.3h14.6M146.7,320v14.6"/><path d="M140.7,327.2h14.6M148,319.9v14.6"/><path d="M142,327.2h14.6M149.3,319.9v14.6"/><path d="M143.3,327.2h14.6M150.6,319.9v14.6"/><path d="M144.6,327.2h14.6M151.9,319.9v14.6"/><path d="M145.9,327.2h14.6M153.2,319.9v14.6"/><path d="M147.2,327.1h14.6M154.5,319.8v14.6"/><path d="M148.6,327.1h14.6M155.9,319.8v14.6"/><path d="M149.9,327.1h14.6M157.2,319.8v14.6"/><path d="M151.2,327.1h14.6M158.5,319.8v14.6"/><path d="M152.6,327.1h14.6M159.9,319.8v14.6"/><path d="M153.9,327h14.6M161.2,319.7v14.6"/><path d="M155.3,327h14.6M162.6,319.7v14.6"/><path d="M156.7,327h14.6M164,319.7v14.6"/><path d="M158,327h14.6M165.3,319.7v14.6"/><path d="M159.4,326.9h14.6M166.7,319.6v14.6"/><path d="M160.8,326.9h14.6M168.1,319.6v14.6"/><path d="M162.1,326.9h14.6M169.4,319.6v14.6"/><path d="M163.5,326.9h14.6M170.8,319.6v14.6"/><path d="M164.9,326.9h14.6M172.2,319.6v14.6"/><path d="M166.3,326.8h14.6M173.6,319.5v14.6"/><path d="M167.7,326.8h14.6M175,319.5v14.6"/><path d="M169.1,326.8h14.6M176.4,319.5v14.6"/><path d="M170.5,326.7h14.6M177.8,319.4v14.6"/><path d="M172,326.7h14.6M179.3,319.4v14.6"/><path d="M173.4,326.7h14.6M180.7,319.4v14.6"/><path d="M174.8,326.7h14.6M182.1,319.4v14.6"/><path d="M176.3,326.6h14.6M183.6,319.3v14.6"/><path d="M177.7,326.6h14.6M185,319.3v14.6"/><path d="M179.2,326.6h14.6M186.5,319.3v14.6"/><path d="M180.6,326.6h14.6M187.9,319.3v14.6"/><path d="M182.1,326.5h14.6M189.4,319.2v14.6"/><path d="M183.6,326.5h14.6M190.9,319.2v14.6"/><path d="M185.1,326.5h14.6M192.4,319.2v14.6"/><path d="M186.6,326.4h14.6M193.9,319.1v14.6"/><path d="M188.1,326.4h14.6M195.4,319.1v14.6"/><path d="M189.6,326.4h14.6M196.9,319.1v14.6"/><path d="M191.1,326.4h14.6M198.4,319.1v14.6"/><path d="M192.6,326.3h14.6M199.9,319v14.6"/><path d="M194.2,326.3h14.6M201.5,319v14.6"/><path d="M195.7,326.3h14.6M203,319v14.6"/><path d="M197.3,326.2h14.6M204.6,318.9v14.6"/><path d="M198.8,326.2h14.6M206.1,318.9v14.6"/><path d="M200.4,326.2h14.6M207.7,318.9v14.6"/><path d="M202,326.1h14.6M209.3,318.8v14.6"/><path d="M203.6,326.1h14.6M210.9,318.8v14.6"/><path d="M205.2,326.1h14.6M212.5,318.8v14.6"/><path d="M206.8,326h14.6M214.1,318.7v14.6"/><path d="M208.4,326h14.6M215.7,318.7v14.6"/><path d="M210,326h14.6M217.3,318.7v14.6"/><path d="M211.7,325.9h14.6M219,318.6v14.6"/><path d="M213.3,325.9h14.6M220.6,318.6v14.6"/><path d="M215,325.9h14.6M222.3,318.6v14.6"/><path d="M216.6,325.8h14.6M223.9,318.5v14.6"/><path d="M218.3,325.8h14.6M225.6,318.5v14.6"/><path d="M220,325.8h14.6M227.3,318.5v14.6"/><path d="M221.7,325.7h14.6M229,318.4v14.6"/><path d="M223.4,325.7h14.6M230.7,318.4v14.6"/><path d="M225.2,325.6h14.6M232.5,318.3v14.6"/><path d="M226.9,325.6h14.6M234.2,318.3v14.6"/><path d="M228.7,325.6h14.6M236,318.3v14.6"/><path d="M230.4,325.5h14.6M237.7,318.2v14.6"/><path d="M232.2,325.5h14.6M239.5,318.2v14.6"/><path d="M234,325.4h14.6M241.3,318.1v14.6"/><path d="M235.8,325.4h14.6M243.1,318.1v14.6"/><path d="M237.6,325.4h14.6M244.9,318.1v14.6"/><path d="M239.4,325.3h14.6M246.7,318v14.6"/><path d="M241.3,325.3h14.6M248.6,318v14.6"/><path d="M243.2,325.2h14.6M250.5,317.9v14.6"/><path d="M245,325.2h14.6M252.3,317.9v14.6"/><path d="M246.9,325.2h14.6M254.2,317.9v14.6"/><path d="M248.8,325.1h14.6M256.1,317.8v14.6"/><path d="M250.7,325.1h14.6M258,317.8v14.6"/><path d="M252.7,325h14.6M260,317.7v14.6"/><path d="M254.6,325h14.6M261.9,317.7v14.6"/><path d="M256.6,325h14.6M263.9,317.7v14.6"/><path d="M258.6,324.9h14.6M265.9,317.6v14.6"/><path d="M260.6,324.9h14.6M267.9,317.6v14.6"/><path d="M262.6,324.8h14.6M269.9,317.5v14.6"/><path d="M264.7,324.8h14.6M272,317.5v14.6"/><path d="M266.7,324.8h14.6M274,317.5v14.6"/><path d="M268.8,324.7h14.6M276.1,317.4v14.6"/><path d="M270.9,324.7h14.6M278.2,317.4v14.6"/><path d="M273,324.7h14.6M280.3,317.4v14.6"/><path d="M275.1,324.7h14.6M282.4,317.4v14.6"/><path d="M277.3,324.7h14.6M284.6,317.4v14.6"/><path d="M279.5,324.7h14.6M286.8,317.4v14.6"/><path d="M281.7,324.7h14.6M289,317.4v14.6"/><path d="M283.9,324.8h14.6M291.2,317.5v14.6"/><path d="M286.1,324.9h14.6M293.4,317.6v14.6"/><path d="M288.4,324.9h14.6M295.7,317.6v14.6"/><path d="M290.7,325h14.6M298,317.7v14.6"/><path d="M293,325.1h14.6M300.3,317.8v14.6"/><path d="M295.3,325.2h14.6M302.6,317.9v14.6"/><path d="M297.7,325.3h14.6M305,318v14.6"/><path d="M300,325.4h14.6M307.3,318.1v14.6"/><path d="M302.4,325.5h14.6M309.7,318.2v14.6"/><path d="M304.9,325.6h14.6M312.2,318.3v14.6"/><path d="M307.3,325.8h14.6M314.6,318.5v14.6"/><path d="M309.8,325.9h14.6M317.1,318.6v14.6"/><path d="M312.3,326.1h14.6M319.6,318.8v14.6"/><path d="M314.9,326.2h14.6M322.2,318.9v14.6"/><path d="M317.4,326.4h14.6M324.7,319.1v14.6"/><path d="M320,326.6h14.6M327.3,319.3v14.6"/><path d="M322.6,326.8h14.6M329.9,319.5v14.6"/><path d="M325.3,327h14.6M332.6,319.7v14.6"/><path d="M328,327.2h14.6M335.3,319.9v14.6"/><path d="M330.7,327.5h14.6M338,320.2v14.6"/><path d="M333.5,327.8h14.6M340.8,320.5v14.6"/><path d="M336.3,328.3h14.6M343.6,321v14.6"/><path d="M339.1,329h14.6M346.4,321.7v14.6"/><path d="M341.9,329.8h14.6M349.2,322.5v14.6"/><path d="M344.8,330.8h14.6M352.1,323.5v14.6"/><path d="M347.7,331.8h14.6M355,324.5v14.6"/><path d="M350.7,332.8h14.6M358,325.5v14.6"/><path d="M353.7,333.9h14.6M361,326.6v14.6"/><path d="M356.8,335h14.6M364.1,327.7v14.6"/><path d="M359.8,336.2h14.6M367.1,328.9v14.6"/><path d="M363,337.5h14.6M370.3,330.2v14.6"/><path d="M366.1,339h14.6M373.4,331.7v14.6"/><path d="M369.3,340.6h14.6M376.6,333.3v14.6"/><path d="M372.6,342.6h14.6M379.9,335.3v14.6"/><path d="M375.9,344.7h14.6M383.2,337.4v14.6"/><path d="M379.2,347h14.6M386.5,339.7v14.6"/><path d="M382.6,349.3h14.6M389.9,342v14.6"/><path d="M386.1,351.5h14.6M393.4,344.2v14.6"/><path d="M389.6,353.8h14.6M396.9,346.5v14.6"/><path d="M393.1,356.2h14.6M400.4,348.9v14.6"/><path d="M396.7,358.4h14.6M404,351.1v14.6"/><path d="M400.4,360.6h14.6M407.7,353.3v14.6"/><path d="M404.1,362.7h14.6M411.4,355.4v14.6"/><path d="M407.9,364.7h14.6M415.2,357.4v14.6"/><path d="M411.7,366.5h14.6M419,359.2v14.6"/><path d="M415.6,368.2h14.6M422.9,360.9v14.6"/><path d="M419.5,369.7h14.6M426.8,362.4v14.6"/><path d="M423.5,371.2h14.6M430.8,363.9v14.6"/><path d="M427.6,372.7h14.6M434.9,365.4v14.6"/><path d="M431.8,374.1h14.6M439.1,366.8v14.6"/><path d="M436,375.6h14.6M443.3,368.3v14.6"/><path d="M440.3,377h14.6M447.6,369.7v14.6"/><path d="M444.6,378.5h14.6M451.9,371.2v14.6"/><path d="M449.1,380h14.6M456.4,372.7v14.6"/><path d="M453.6,381.4h14.6M460.9,374.1v14.6"/><path d="M458.2,382.7h14.6M465.5,375.4v14.6"/><path d="M462.8,383.9h14.6M470.1,376.6v14.6"/><path d="M467.6,385.1h14.6M474.9,377.8v14.6"/><path d="M472.5,386.2h14.6M479.8,378.9v14.6"/><path d="M477.4,387.1h14.6M484.7,379.8v14.6"/><path d="M482.4,387.6h14.6M489.7,380.3v14.6"/><path d="M487.6,388h14.6M494.9,380.7v14.6"/><path d="M492.8,388.3h14.6M500.1,381v14.6"/><path d="M498.1,388.4h14.6M505.4,381.1v14.6"/><path d="M503.6,388.1h14.6M510.9,380.8v14.6"/><path d="M509.1,387.6h14.6M516.4,380.3v14.6"/><path d="M514.8,387h14.6M522.1,379.7v14.6"/><path d="M520.6,386.3h14.6M527.9,379v14.6"/><path d="M526.5,385.3h14.6M533.8,378v14.6"/><path d="M532.5,384.1h14.6M539.8,376.8v14.6"/><path d="M538.7,382.8h14.6M546,375.5v14.6"/><path d="M545,381.4h14.6M552.3,374.1v14.6"/><path d="M551.4,379.8h14.6M558.7,372.5v14.6"/><path d="M558,378.1h14.6M565.3,370.8v14.6"/><path d="M564.7,376.5h14.6M572,369.2v14.6"/><path d="M571.6,375h14.6M578.9,367.7v14.6"/><path d="M578.6,373.5h14.6M585.9,366.2v14.6"/><path d="M585.8,371.9h14.6M593.1,364.6v14.6"/><path d="M593.2,370.1h14.6M600.5,362.8v14.6"/><path d="M600.8,368.1h14.6M608.1,360.8v14.6"/><path d="M608.5,366h14.6M615.8,358.7v14.6"/><path d="M616.5,363.7h14.6M623.8,356.4v14.6"/><path d="M624.6,361.3h14.6M631.9,354v14.6"/><path d="M633,358.9h14.6M640.3,351.6v14.6"/><path d="M641.6,356.6h14.6M648.9,349.3v14.6"/><path d="M650.4,354.5h14.6M657.7,347.2v14.6"/><path d="M659.4,352.4h14.6M666.7,345.1v14.6"/><path d="M668.8,350.3h14.6M676.1,343v14.6"/><path d="M678.3,348.3h14.6M685.6,341v14.6"/><path d="M688.2,346.3h14.6M695.5,339v14.6"/><path d="M698.3,344.4h14.6M705.6,337.1v14.6"/><path d="M708.7,342.5h14.6M716,335.2v14.6"/><path d="M719.4,340.6h14.6M726.7,333.3v14.6"/><path d="M730.5,338.8h14.6M737.8,331.5v14.6"/><path d="M741.9,337.1h14.6M749.2,329.8v14.6"/><path d="M753.6,335.5h14.6M760.9,328.2v14.6"/><path d="M765.8,334h14.6M773.1,326.7v14.6"/><path d="M778.3,332.5h14.6M785.6,325.2v14.6"/><path d="M791.3,331.3h14.6M798.6,324v14.6"/><path d="M804.7,330.2h14.6M812,322.9v14.6"/></g>
<text x="81.2" y="61.6" font-size="31" font-family="Liberation Serif, serif" text-anchor="middle">0</text>
<text x="81.2" y="615.9" font-size="31" font-family="Liberation Serif, serif" text-anchor="middle">0</text>
<text x="266.2" y="61.6" font-size="31" font-family="Liberation Serif, serif" text-anchor="middle">1</text>
<text x="266.2" y="615.9" font-size="31" font-family="Liberation Serif, serif" text-anchor="middle">1</text>
<text x="451.2" y="61.6" font-size="31" font-family="Liberation Serif, serif" text-anchor="middle">2</text>
<text x="451.2" y="615.9" font-size="31" font-family="Liberation Serif, serif" text-anchor="middle">2</text>
<text x="636.3" y="61.6" font-size="31" font-family="Liberation Serif, serif" text-anchor="middle">3</text>
<text x="636.3" y="615.9" font-size="31" font-family="Liberation Serif, serif" text-anchor="middle">3</text>
<text x="821.3" y="61.6" font-size="31" font-family="Liberation Serif, serif" text-anchor="middle">4</text>
<text x="821.3" y="615.9" font-size="31" font-family="Liberation Serif, serif" text-anchor="middle">4</text>
<text x="74.3" y="598" font-size="31" font-family="Liberation Serif, serif" text-anchor="end">-2</text>
<text x="74.3" y="468.4" font-size="31" font-family="Liberation Serif, serif" text-anchor="end">-1</text>
<text x="74.3" y="338.9" font-size="31" font-family="Liberation Serif, serif" text-anchor="end">0</text>
<text x="74.3" y="209.3" font-size="31" font-family="Liberation Serif, serif" text-anchor="end">1</text>
<text x="74.3" y="79.8" font-size="31" font-family="Liberation Serif, serif" text-anchor="end">2</text>
<rect x="91.7" y="87.2" width="237.5" height="112.99999999999999" fill="#fff" stroke="#000" stroke-width="1.2"/>
<path d="M107.2,108.6H136.9" stroke="#000" stroke-width="1.15"/>
<path d="M99.9,108.6a7.3,7.3 0 1,0 14.6,0a7.3,7.3 0 1,0 -14.6,0M129.6,108.6a7.3,7.3 0 1,0 14.6,0a7.3,7.3 0 1,0 -14.6,0" fill="none" stroke="#000" stroke-width="1.2"/>
<text y="112.4" font-size="27" font-family="Liberation Serif, serif" xml:space="preserve"><tspan x="151.8" y="112.4" font-size="28">η</tspan><tspan x="167.7" y="122.7" font-size="17.8">R</tspan><tspan x="179.0" y="113.7">=</tspan><tspan x="193.9" y="112.4" letter-spacing="-0.6">0</tspan><tspan x="246.0" y="112.4" font-size="28">η</tspan><tspan x="261.8" y="122.7" font-size="17.8">D</tspan><tspan x="275.0" y="113.7">=</tspan><tspan x="289.9" y="112.4" letter-spacing="-0.6">0.2</tspan></text>
<path d="M107.2,143.8H136.9" stroke="#000" stroke-width="1.15"/>
<path d="M101,137.6h12.4v12.4h-12.4zM130.7,137.6h12.4v12.4h-12.4z" fill="none" stroke="#000" stroke-width="1.2"/>
<text y="147.6" font-size="27" font-family="Liberation Serif, serif" xml:space="preserve"><tspan x="151.8" y="147.6" font-size="28">η</tspan><tspan x="167.7" y="157.9" font-size="17.8">R</tspan><tspan x="179.0" y="148.9">=</tspan><tspan x="193.9" y="147.6" letter-spacing="-0.6">0.08</tspan><tspan x="246.0" y="147.6" font-size="28">η</tspan><tspan x="261.8" y="157.9" font-size="17.8">D</tspan><tspan x="275.0" y="148.9">=</tspan><tspan x="289.9" y="147.6" letter-spacing="-0.6">0.2</tspan></text>
<path d="M107.2,178.9H136.9" stroke="#000" stroke-width="1.15"/>
<path d="M99.9,178.9h14.6M107.2,171.6v14.6M129.6,178.9h14.6M136.9,171.6v14.6" fill="none" stroke="#000" stroke-width="1.2"/>
<text y="182.7" font-size="27" font-family="Liberation Serif, serif" xml:space="preserve"><tspan x="151.8" y="182.7" font-size="28">η</tspan><tspan x="167.7" y="193" font-size="17.8">R</tspan><tspan x="179.0" y="184">=</tspan><tspan x="193.9" y="182.7" letter-spacing="-0.6">0.16</tspan><tspan x="246.0" y="182.7" font-size="28">η</tspan><tspan x="261.8" y="193" font-size="17.8">D</tspan><tspan x="275.0" y="184">=</tspan><tspan x="289.9" y="182.7" letter-spacing="-0.6">0.2</tspan></text>
<rect x="91.9" y="461.4" width="237.29999999999998" height="112.89999999999998" fill="#fff" stroke="#000" stroke-width="1.2"/>
<path d="M107.2,482.6H136.9" stroke="#f00" stroke-width="2"/>
<path d="M99.9,482.6a7.3,7.3 0 1,0 14.6,0a7.3,7.3 0 1,0 -14.6,0M129.6,482.6a7.3,7.3 0 1,0 14.6,0a7.3,7.3 0 1,0 -14.6,0" fill="none" stroke="#f00" stroke-width="1.2"/>
<text y="486.4" font-size="27" font-family="Liberation Serif, serif" xml:space="preserve"><tspan x="151.8" y="486.4" font-size="28">η</tspan><tspan x="167.7" y="496.7" font-size="17.8">R</tspan><tspan x="179.0" y="487.7">=</tspan><tspan x="193.9" y="486.4" letter-spacing="-0.6">0.2</tspan><tspan x="232.7" y="486.4" font-size="28">η</tspan><tspan x="248.5" y="496.7" font-size="17.8">D</tspan><tspan x="261.2" y="487.7">=</tspan><tspan x="276.1" y="486.4" letter-spacing="-0.6">0</tspan></text>
<path d="M107.2,517.8H136.9" stroke="#f00" stroke-width="2"/>
<path d="M101,511.6h12.4v12.4h-12.4zM130.7,511.6h12.4v12.4h-12.4z" fill="none" stroke="#f00" stroke-width="1.2"/>
<text y="521.6" font-size="27" font-family="Liberation Serif, serif" xml:space="preserve"><tspan x="151.8" y="521.6" font-size="28">η</tspan><tspan x="167.7" y="531.9" font-size="17.8">R</tspan><tspan x="179.0" y="522.9">=</tspan><tspan x="193.9" y="521.6" letter-spacing="-0.6">0.2</tspan><tspan x="232.7" y="521.6" font-size="28">η</tspan><tspan x="248.5" y="531.9" font-size="17.8">D</tspan><tspan x="261.2" y="522.9">=</tspan><tspan x="276.1" y="521.6" letter-spacing="-0.6">0.08</tspan></text>
<path d="M107.2,552.9H136.9" stroke="#f00" stroke-width="2"/>
<path d="M99.9,552.9h14.6M107.2,545.6v14.6M129.6,552.9h14.6M136.9,545.6v14.6" fill="none" stroke="#f00" stroke-width="1.2"/>
<text y="556.7" font-size="27" font-family="Liberation Serif, serif" xml:space="preserve"><tspan x="151.8" y="556.7" font-size="28">η</tspan><tspan x="167.7" y="567" font-size="17.8">R</tspan><tspan x="179.0" y="558">=</tspan><tspan x="193.9" y="556.7" letter-spacing="-0.6">0.2</tspan><tspan x="232.7" y="556.7" font-size="28">η</tspan><tspan x="248.5" y="567" font-size="17.8">D</tspan><tspan x="261.2" y="558">=</tspan><tspan x="276.1" y="556.7" letter-spacing="-0.6">0.16</tspan></text>
<path d="M81.2,587.0v-14.5M81.2,68.8v14.5M173.7,587.0v-7.2M173.7,68.8v7.2M266.2,587.0v-14.5M266.2,68.8v14.5M358.7,587.0v-7.2M358.7,68.8v7.2M451.2,587.0v-14.5M451.2,68.8v14.5M543.8,587.0v-7.2M543.8,68.8v7.2M636.3,587.0v-14.5M636.3,68.8v14.5M728.8,587.0v-7.2M728.8,68.8v7.2M821.3,587.0v-14.5M821.3,68.8v14.5M81.2,587h14.5M821.3,587h-14.5M81.2,522.2h7.2M821.3,522.2h-7.2M81.2,457.4h14.5M821.3,457.4h-14.5M81.2,392.7h7.2M821.3,392.7h-7.2M81.2,327.9h14.5M821.3,327.9h-14.5M81.2,263.1h7.2M821.3,263.1h-7.2M81.2,198.3h14.5M821.3,198.3h-14.5M81.2,133.6h7.2M821.3,133.6h-7.2M81.2,68.8h14.5M821.3,68.8h-14.5" stroke="#000" stroke-width="1.5" fill="none"/>
<rect x="81.2" y="68.8" width="740.1" height="518.2" fill="none" stroke="#000" stroke-width="1.5"/>
<text font-size="34" font-family="Liberation Serif, serif"><tspan x="435.8" y="17.9">g</tspan><tspan x="454.2" y="32.3" font-size="24.5">x</tspan></text>
<text font-size="34" font-family="Liberation Serif, serif" fill="#f00"><tspan x="435.8" y="639.6">g</tspan><tspan x="454.2" y="653.6" font-size="24.5">y</tspan></text>
<g transform="translate(25.8,407.1) rotate(-90)" font-size="34" font-family="Liberation Serif, serif"><text transform="translate(-1.6,0) scale(1.27,1)">σ</text><text x="21.4" y="15" font-size="25.5">SH</text><text x="55.0" y="0">(</text><text x="65.9" y="0">e</text><text x="82.2" y="0">/</text><text x="94.2" y="0">4</text><text x="111.6" y="0">π</text><text x="129.9" y="0">h</text><text x="147.8" y="0">)</text><path d="M128.1,-19.6H147.7" stroke="#000" stroke-width="1.3"/></g>
</svg>
</body></html>
